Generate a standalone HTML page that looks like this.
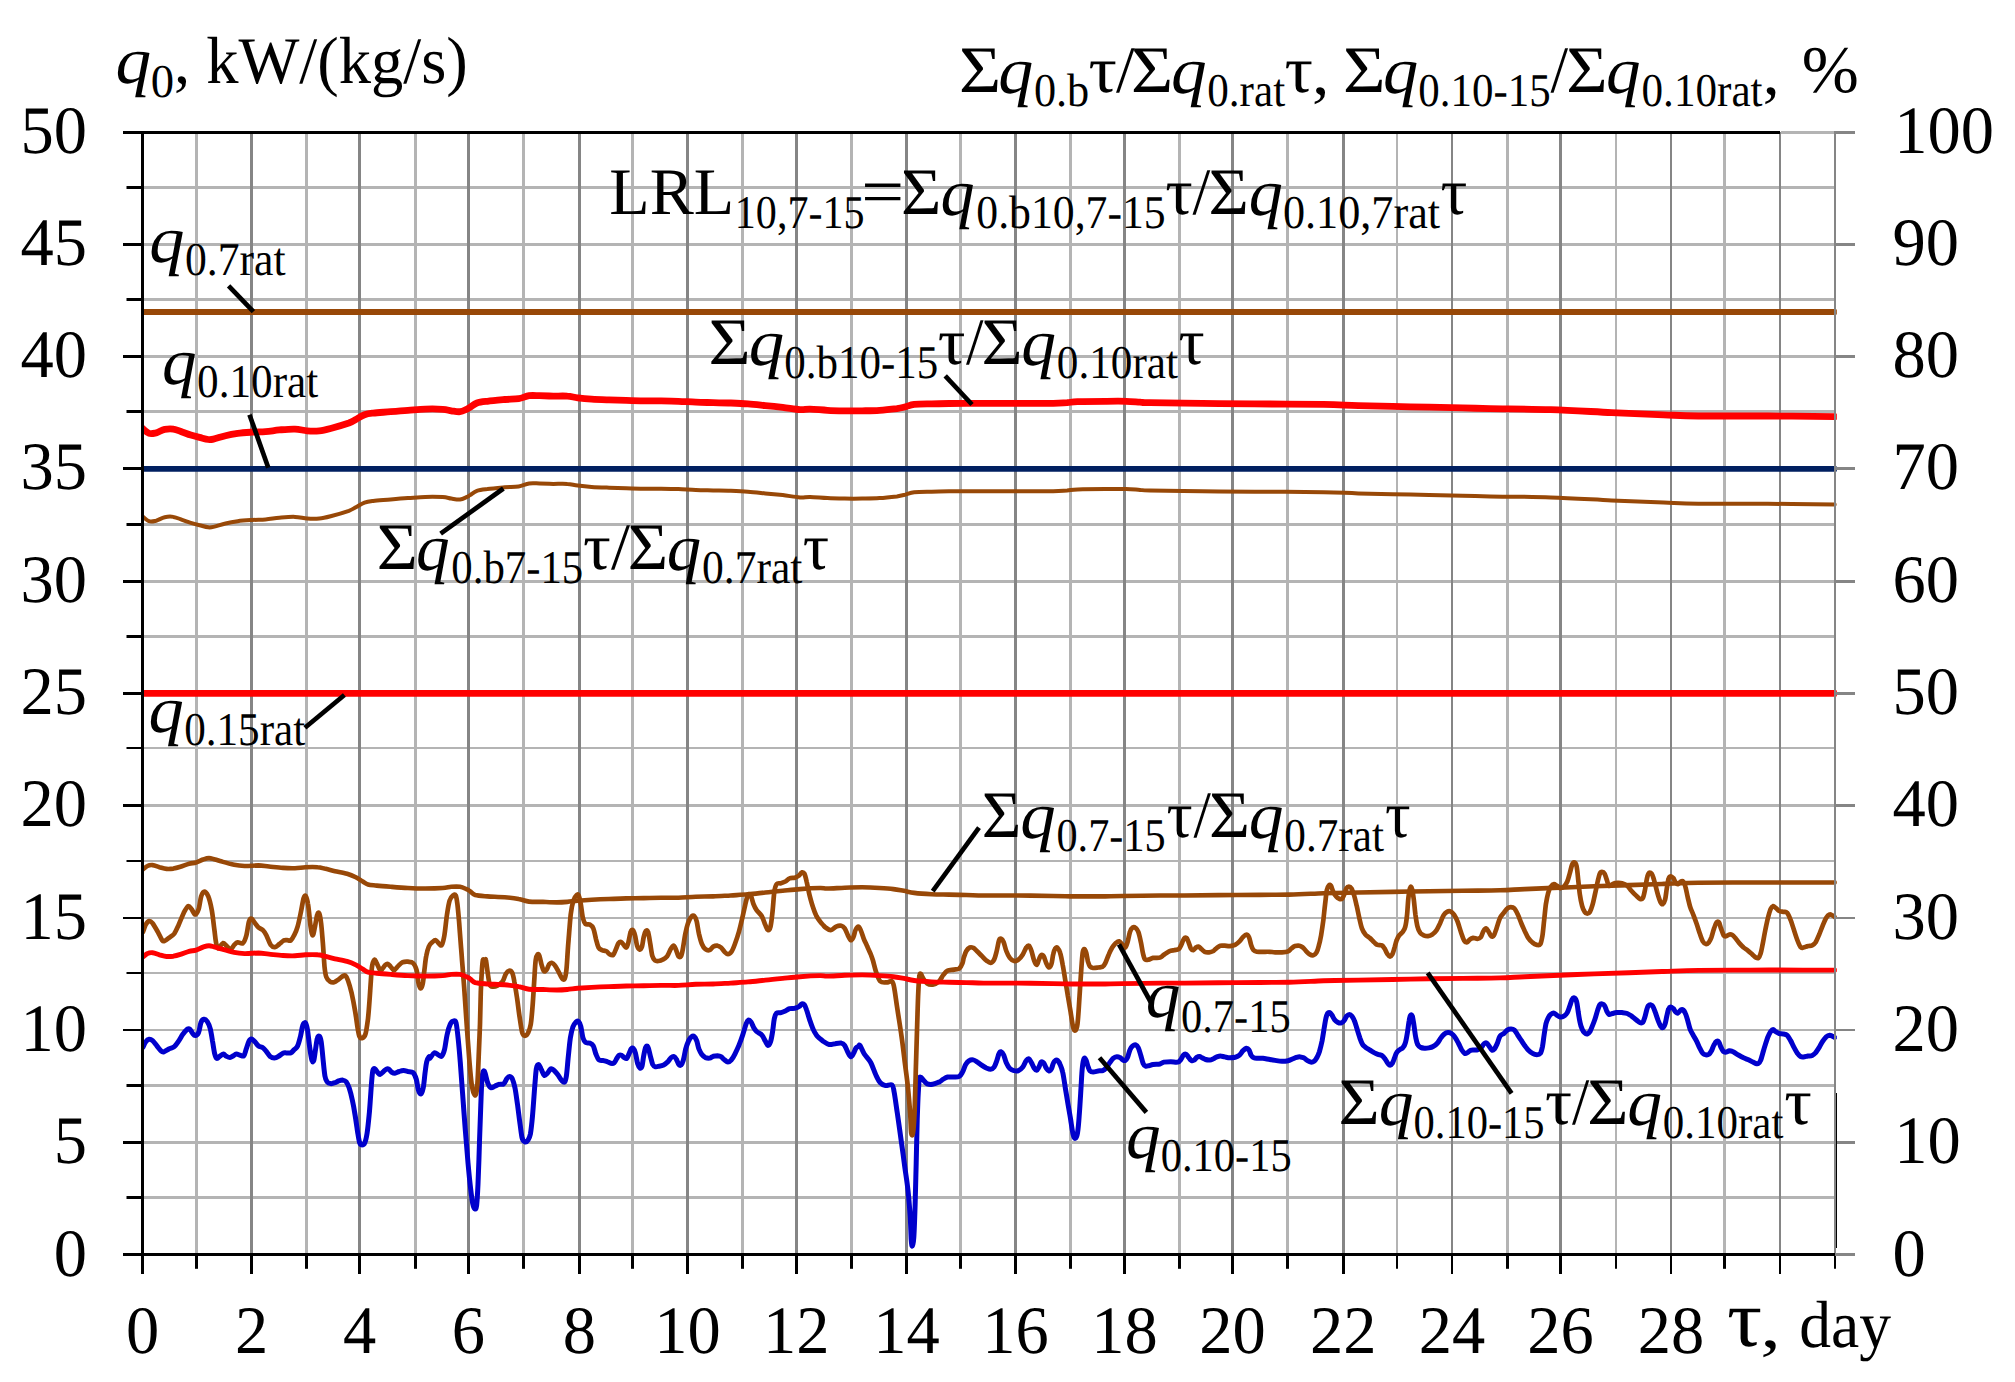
<!DOCTYPE html>
<html><head><meta charset="utf-8"><title>q0 chart</title>
<style>html,body{margin:0;padding:0;background:#fff}svg{display:block}</style></head>
<body>
<svg width="2015" height="1382" viewBox="0 0 2015 1382">
<rect width="2015" height="1382" fill="#fff"/>
<g fill="none">
<line x1="142.5" x2="1835.0" y1="1197.5" y2="1197.5" stroke="#b4b4b4" stroke-width="3"/>
<line x1="142.5" x2="1835.0" y1="1142.5" y2="1142.5" stroke="#b4b4b4" stroke-width="3"/>
<line x1="142.5" x2="1835.0" y1="1085.5" y2="1085.5" stroke="#b4b4b4" stroke-width="3"/>
<line x1="142.5" x2="1835.0" y1="1030.0" y2="1030.0" stroke="#b4b4b4" stroke-width="2"/>
<line x1="142.5" x2="1835.0" y1="973.0" y2="973.0" stroke="#b4b4b4" stroke-width="2"/>
<line x1="142.5" x2="1835.0" y1="918.0" y2="918.0" stroke="#b4b4b4" stroke-width="2"/>
<line x1="142.5" x2="1835.0" y1="861.0" y2="861.0" stroke="#b4b4b4" stroke-width="2"/>
<line x1="142.5" x2="1835.0" y1="805.5" y2="805.5" stroke="#b4b4b4" stroke-width="3"/>
<line x1="142.5" x2="1835.0" y1="748.0" y2="748.0" stroke="#b4b4b4" stroke-width="2"/>
<line x1="142.5" x2="1835.0" y1="693.5" y2="693.5" stroke="#b4b4b4" stroke-width="3"/>
<line x1="142.5" x2="1835.0" y1="636.5" y2="636.5" stroke="#b4b4b4" stroke-width="3"/>
<line x1="142.5" x2="1835.0" y1="581.5" y2="581.5" stroke="#b4b4b4" stroke-width="3"/>
<line x1="142.5" x2="1835.0" y1="524.5" y2="524.5" stroke="#b4b4b4" stroke-width="3"/>
<line x1="142.5" x2="1835.0" y1="468.5" y2="468.5" stroke="#b4b4b4" stroke-width="3"/>
<line x1="142.5" x2="1835.0" y1="411.5" y2="411.5" stroke="#b4b4b4" stroke-width="3"/>
<line x1="142.5" x2="1835.0" y1="356.5" y2="356.5" stroke="#b4b4b4" stroke-width="3"/>
<line x1="142.5" x2="1835.0" y1="299.5" y2="299.5" stroke="#b4b4b4" stroke-width="3"/>
<line x1="142.5" x2="1835.0" y1="244.5" y2="244.5" stroke="#b4b4b4" stroke-width="3"/>
<line x1="142.5" x2="1835.0" y1="187.5" y2="187.5" stroke="#b4b4b4" stroke-width="3"/>
<line x1="196.5" x2="196.5" y1="132" y2="1254" stroke="#b4b4b4" stroke-width="3"/>
<line x1="306.5" x2="306.5" y1="132" y2="1254" stroke="#b4b4b4" stroke-width="3"/>
<line x1="415.5" x2="415.5" y1="132" y2="1254" stroke="#b4b4b4" stroke-width="3"/>
<line x1="523.5" x2="523.5" y1="132" y2="1254" stroke="#b4b4b4" stroke-width="3"/>
<line x1="632.5" x2="632.5" y1="132" y2="1254" stroke="#b4b4b4" stroke-width="3"/>
<line x1="742.5" x2="742.5" y1="132" y2="1254" stroke="#b4b4b4" stroke-width="3"/>
<line x1="851.5" x2="851.5" y1="132" y2="1254" stroke="#b4b4b4" stroke-width="3"/>
<line x1="960.5" x2="960.5" y1="132" y2="1254" stroke="#b4b4b4" stroke-width="3"/>
<line x1="1070.5" x2="1070.5" y1="132" y2="1254" stroke="#b4b4b4" stroke-width="3"/>
<line x1="1179.5" x2="1179.5" y1="132" y2="1254" stroke="#b4b4b4" stroke-width="3"/>
<line x1="1287.5" x2="1287.5" y1="132" y2="1254" stroke="#b4b4b4" stroke-width="3"/>
<line x1="1397.0" x2="1397.0" y1="132" y2="1254" stroke="#b4b4b4" stroke-width="2"/>
<line x1="1507.5" x2="1507.5" y1="132" y2="1254" stroke="#b4b4b4" stroke-width="3"/>
<line x1="1616.0" x2="1616.0" y1="132" y2="1254" stroke="#b4b4b4" stroke-width="2"/>
<line x1="1724.5" x2="1724.5" y1="132" y2="1254" stroke="#b4b4b4" stroke-width="3"/>
<line x1="251.5" x2="251.5" y1="132" y2="1254" stroke="#858585" stroke-width="3"/>
<line x1="359.5" x2="359.5" y1="132" y2="1254" stroke="#858585" stroke-width="3"/>
<line x1="468.5" x2="468.5" y1="132" y2="1254" stroke="#858585" stroke-width="3"/>
<line x1="579.5" x2="579.5" y1="132" y2="1254" stroke="#858585" stroke-width="3"/>
<line x1="687.5" x2="687.5" y1="132" y2="1254" stroke="#858585" stroke-width="3"/>
<line x1="796.5" x2="796.5" y1="132" y2="1254" stroke="#858585" stroke-width="3"/>
<line x1="906.5" x2="906.5" y1="132" y2="1254" stroke="#858585" stroke-width="3"/>
<line x1="1015.5" x2="1015.5" y1="132" y2="1254" stroke="#858585" stroke-width="3"/>
<line x1="1124.5" x2="1124.5" y1="132" y2="1254" stroke="#858585" stroke-width="3"/>
<line x1="1232.5" x2="1232.5" y1="132" y2="1254" stroke="#858585" stroke-width="3"/>
<line x1="1343.5" x2="1343.5" y1="132" y2="1254" stroke="#858585" stroke-width="3"/>
<line x1="1452.0" x2="1452.0" y1="132" y2="1254" stroke="#858585" stroke-width="2"/>
<line x1="1560.5" x2="1560.5" y1="132" y2="1254" stroke="#858585" stroke-width="3"/>
<line x1="1671.0" x2="1671.0" y1="132" y2="1254" stroke="#858585" stroke-width="2"/>
<line x1="1780.0" x2="1780.0" y1="132" y2="1254" stroke="#858585" stroke-width="2"/>
</g>
<clipPath id="pc"><rect x="142.5" y="120" width="1694.3" height="1140"/></clipPath>
<g fill="none" stroke-linecap="round" stroke-linejoin="round" clip-path="url(#pc)">
<line x1="142.5" x2="1835" y1="312.0" y2="312.0" stroke="#984807" stroke-width="5.8"/>
<line x1="142.5" x2="1835" y1="468.8" y2="468.8" stroke="#001f60" stroke-width="5.8"/>
<line x1="142.5" x2="1835" y1="693.4" y2="693.4" stroke="#ff0000" stroke-width="6.6"/>
<path d="M142.2 516.0C143.3 516.9 146.8 520.4 149.1 521.2C151.4 522.0 153.4 521.3 156.1 520.7C158.7 520.0 161.8 517.8 164.7 517.2C167.6 516.6 170.5 516.4 173.4 516.9C176.3 517.3 179.2 518.8 182.1 519.8C185.0 520.8 187.9 522.0 190.8 522.9C193.7 523.8 196.6 524.5 199.5 525.2C202.4 525.9 205.8 527.0 208.2 527.3C210.5 527.6 210.5 527.6 213.4 526.9C216.3 526.3 221.5 524.4 225.5 523.5C229.6 522.5 233.4 521.8 237.7 521.2C242.0 520.6 247.0 520.3 251.6 520.0C256.2 519.7 260.9 519.8 265.5 519.5C270.1 519.1 274.5 518.2 279.4 517.7C284.3 517.3 290.4 516.7 295.0 516.9C299.6 517.0 303.1 518.3 307.2 518.6C311.2 518.9 315.3 519.0 319.3 518.6C323.4 518.2 326.6 517.3 331.5 516.0C336.4 514.7 344.8 512.2 348.9 510.8C352.9 509.3 353.2 508.7 355.8 507.3C358.4 505.9 361.6 503.7 364.5 502.6C367.4 501.5 368.8 501.4 373.2 500.9C377.5 500.4 384.8 500.0 390.6 499.5C396.3 499.0 402.1 498.5 407.9 498.1C413.7 497.7 419.5 497.1 425.3 496.9C431.1 496.7 438.3 496.8 442.7 497.1C447.0 497.3 448.5 498.2 451.3 498.6C454.2 499.0 457.4 499.8 460.0 499.5C462.6 499.2 465.3 497.6 467.0 496.9C468.6 496.2 468.3 496.2 470.0 495.1C471.7 494.1 474.1 491.8 476.9 490.8C479.8 489.8 482.7 489.6 487.4 489.1C492.0 488.5 499.5 487.8 504.7 487.3C510.0 486.9 514.6 487.1 518.6 486.5C522.7 485.8 525.6 484.0 529.1 483.5C532.5 483.0 535.4 483.4 539.5 483.5C543.5 483.6 548.7 483.8 553.4 483.9C558.0 483.9 563.2 483.6 567.3 483.9C571.3 484.1 573.6 485.1 577.7 485.6C581.7 486.1 586.4 486.6 591.6 487.0C596.8 487.3 603.2 487.5 609.0 487.7C614.8 487.9 620.5 488.0 626.3 488.2C632.1 488.4 637.9 488.6 643.7 488.7C649.5 488.8 655.3 488.7 661.1 488.7C666.9 488.8 672.7 488.9 678.4 489.1C684.2 489.3 690.0 489.7 695.8 489.9C701.6 490.2 707.4 490.3 713.2 490.5C719.0 490.6 724.8 490.6 730.6 490.8C736.3 491.0 742.1 491.2 747.9 491.7C753.7 492.1 759.5 492.8 765.3 493.4C771.1 494.0 776.9 494.5 782.7 495.1C788.5 495.8 795.5 497.1 800.0 497.4C804.6 497.7 805.4 496.8 810.0 496.9C814.6 497.0 821.6 497.8 827.4 498.1C833.2 498.4 839.0 498.5 844.7 498.6C850.5 498.7 856.3 498.7 862.1 498.6C867.9 498.5 873.7 498.5 879.5 498.1C885.3 497.7 892.5 496.9 896.9 496.4C901.2 495.8 902.6 495.3 905.5 494.6C908.4 493.9 909.9 492.7 914.2 492.2C918.6 491.7 925.8 491.8 931.6 491.7C937.4 491.5 943.2 491.4 949.0 491.3C954.8 491.2 960.5 491.2 966.3 491.2C972.1 491.1 975.0 491.2 983.7 491.2C992.4 491.2 1006.9 491.2 1018.4 491.2C1030.0 491.2 1045.1 491.3 1053.2 491.2C1061.3 491.0 1063.0 490.7 1067.1 490.5C1071.1 490.2 1071.1 489.6 1077.5 489.4C1083.9 489.2 1097.2 489.1 1105.3 489.1C1113.4 489.0 1120.3 488.9 1126.1 489.1C1131.9 489.2 1136.1 489.7 1140.0 489.9C1144.0 490.2 1139.7 490.3 1150.0 490.5C1160.3 490.7 1184.7 490.9 1202.1 491.2C1219.5 491.4 1234.0 491.5 1254.2 491.7C1274.5 491.8 1306.3 491.9 1323.7 492.2C1341.1 492.5 1344.0 493.0 1358.4 493.4C1372.9 493.8 1393.2 494.2 1410.6 494.6C1427.9 495.0 1449.4 495.4 1462.7 495.7C1475.9 496.0 1475.3 496.1 1490.0 496.4C1504.7 496.7 1530.5 496.7 1550.8 497.4C1571.1 498.1 1592.8 499.5 1611.6 500.4C1630.4 501.2 1649.2 502.0 1663.7 502.6C1678.2 503.2 1681.1 503.6 1698.4 503.8C1715.8 504.0 1745.2 503.7 1767.9 503.8C1790.6 503.9 1823.7 504.3 1834.8 504.4" stroke="#984807" stroke-width="4.0"/>
<path d="M142.2 428.2C143.3 429.1 146.8 432.6 149.1 433.4C151.4 434.2 153.4 433.5 156.1 432.9C158.7 432.2 161.8 430.0 164.7 429.4C167.6 428.8 170.5 428.6 173.4 429.1C176.3 429.5 179.2 431.0 182.1 432.0C185.0 433.0 187.9 434.2 190.8 435.1C193.7 436.0 196.6 436.7 199.5 437.4C202.4 438.1 205.8 439.2 208.2 439.5C210.5 439.8 210.5 439.8 213.4 439.1C216.3 438.5 221.5 436.6 225.5 435.7C229.6 434.7 233.4 434.0 237.7 433.4C242.0 432.8 247.0 432.5 251.6 432.2C256.2 431.9 260.9 432.0 265.5 431.7C270.1 431.3 274.5 430.4 279.4 429.9C284.3 429.5 290.4 428.9 295.0 429.1C299.6 429.2 303.1 430.5 307.2 430.8C311.2 431.1 315.3 431.2 319.3 430.8C323.4 430.4 326.6 429.5 331.5 428.2C336.4 426.9 344.8 424.4 348.9 423.0C352.9 421.5 353.2 420.9 355.8 419.5C358.4 418.1 361.6 415.9 364.5 414.8C367.4 413.7 368.8 413.6 373.2 413.1C377.5 412.6 384.8 412.2 390.6 411.7C396.3 411.2 402.1 410.7 407.9 410.3C413.7 409.9 419.5 409.3 425.3 409.1C431.1 408.9 438.3 409.0 442.7 409.3C447.0 409.5 448.5 410.4 451.3 410.8C454.2 411.2 457.4 412.0 460.0 411.7C462.6 411.4 465.3 409.8 467.0 409.1C468.6 408.4 468.3 408.4 470.0 407.3C471.7 406.3 474.1 404.0 476.9 403.0C479.8 402.0 482.7 401.8 487.4 401.3C492.0 400.7 499.5 400.0 504.7 399.5C510.0 399.1 514.6 399.3 518.6 398.7C522.7 398.0 525.6 396.2 529.1 395.7C532.5 395.2 535.4 395.6 539.5 395.7C543.5 395.8 548.7 396.0 553.4 396.1C558.0 396.1 563.2 395.8 567.3 396.1C571.3 396.3 573.6 397.3 577.7 397.8C581.7 398.3 586.4 398.8 591.6 399.2C596.8 399.5 603.2 399.7 609.0 399.9C614.8 400.1 620.5 400.2 626.3 400.4C632.1 400.6 637.9 400.8 643.7 400.9C649.5 401.0 655.3 400.9 661.1 400.9C666.9 401.0 672.7 401.1 678.4 401.3C684.2 401.5 690.0 401.9 695.8 402.1C701.6 402.4 707.4 402.5 713.2 402.7C719.0 402.8 724.8 402.8 730.6 403.0C736.3 403.2 742.1 403.4 747.9 403.9C753.7 404.3 759.5 405.0 765.3 405.6C771.1 406.2 776.9 406.7 782.7 407.3C788.5 408.0 795.5 409.3 800.0 409.6C804.6 409.9 805.4 409.0 810.0 409.1C814.6 409.2 821.6 410.0 827.4 410.3C833.2 410.6 839.0 410.7 844.7 410.8C850.5 410.9 856.3 410.9 862.1 410.8C867.9 410.7 873.7 410.7 879.5 410.3C885.3 409.9 892.5 409.1 896.9 408.6C901.2 408.0 902.6 407.5 905.5 406.8C908.4 406.1 909.9 404.9 914.2 404.4C918.6 403.9 925.8 404.0 931.6 403.9C937.4 403.7 943.2 403.6 949.0 403.5C954.8 403.4 960.5 403.4 966.3 403.4C972.1 403.3 975.0 403.4 983.7 403.4C992.4 403.4 1006.9 403.4 1018.4 403.4C1030.0 403.4 1045.1 403.5 1053.2 403.4C1061.3 403.2 1063.0 402.9 1067.1 402.7C1071.1 402.4 1071.1 401.8 1077.5 401.6C1083.9 401.4 1097.2 401.3 1105.3 401.3C1113.4 401.2 1120.3 401.1 1126.1 401.3C1131.9 401.4 1136.1 401.9 1140.0 402.1C1144.0 402.4 1139.7 402.5 1150.0 402.7C1160.3 402.9 1184.7 403.1 1202.1 403.4C1219.5 403.6 1234.0 403.7 1254.2 403.9C1274.5 404.0 1306.3 404.1 1323.7 404.4C1341.1 404.7 1344.0 405.2 1358.4 405.6C1372.9 406.0 1393.2 406.4 1410.6 406.8C1427.9 407.2 1449.4 407.6 1462.7 407.9C1475.9 408.2 1475.3 408.3 1490.0 408.6C1504.7 408.9 1530.5 408.9 1550.8 409.6C1571.1 410.3 1592.8 411.7 1611.6 412.6C1630.4 413.4 1649.2 414.2 1663.7 414.8C1678.2 415.4 1681.1 415.8 1698.4 416.0C1715.8 416.2 1745.2 415.9 1767.9 416.0C1790.6 416.1 1823.7 416.5 1834.8 416.6" stroke="#ff0000" stroke-width="6.8"/>
<path d="M143.0 1047.1C143.5 1046.3 144.6 1043.2 145.6 1041.9C146.6 1040.6 147.9 1039.5 149.1 1039.3C150.3 1039.1 151.3 1039.6 152.6 1040.7C153.9 1041.8 155.5 1044.2 156.9 1045.9C158.4 1047.7 160.1 1050.1 161.3 1051.1C162.4 1052.1 162.6 1052.2 163.9 1051.8C165.2 1051.4 167.3 1049.7 169.1 1048.9C170.8 1048.0 172.7 1047.9 174.3 1046.6C175.9 1045.3 177.2 1043.1 178.6 1041.1C180.1 1039.0 181.5 1036.1 183.0 1034.1C184.4 1032.1 186.2 1030.1 187.3 1029.2C188.5 1028.4 189.1 1028.6 189.9 1029.2C190.8 1029.9 191.7 1032.2 192.5 1033.2C193.4 1034.3 194.1 1035.6 195.1 1035.5C196.2 1035.4 197.7 1034.5 198.6 1032.4C199.6 1030.3 200.0 1025.0 200.9 1022.8C201.7 1020.6 202.8 1019.5 203.8 1019.3C204.9 1019.1 206.2 1020.0 207.3 1021.6C208.4 1023.2 209.4 1025.7 210.3 1028.9C211.1 1032.1 211.8 1036.9 212.5 1041.1C213.3 1045.3 214.0 1051.2 214.8 1054.1C215.5 1057.0 215.9 1058.1 216.9 1058.4C217.8 1058.7 219.2 1056.5 220.3 1055.8C221.4 1055.1 222.4 1054.0 223.5 1054.1C224.5 1054.2 225.3 1055.8 226.4 1056.3C227.5 1056.9 228.7 1057.6 229.9 1057.6C231.0 1057.5 232.3 1056.4 233.4 1055.8C234.4 1055.2 235.1 1054.2 236.3 1054.1C237.5 1054.0 239.1 1055.0 240.3 1055.3C241.5 1055.6 242.8 1056.7 243.8 1055.8C244.7 1054.9 245.2 1052.2 246.0 1049.7C246.9 1047.3 248.1 1042.9 249.0 1041.1C249.9 1039.3 250.6 1038.8 251.6 1039.0C252.6 1039.1 253.9 1040.8 255.1 1041.9C256.2 1043.1 257.2 1045.0 258.5 1045.9C259.8 1046.9 261.6 1046.7 262.9 1047.7C264.2 1048.6 265.1 1050.0 266.4 1051.5C267.6 1053.0 269.0 1055.6 270.4 1056.7C271.7 1057.8 272.8 1058.1 274.2 1058.1C275.5 1058.0 277.1 1057.2 278.5 1056.3C280.0 1055.5 281.6 1053.8 282.9 1053.2C284.2 1052.6 285.0 1052.9 286.3 1052.9C287.6 1052.8 289.4 1053.4 290.7 1052.9C292.0 1052.3 293.0 1050.9 294.1 1049.7C295.3 1048.6 296.6 1048.2 297.6 1045.9C298.7 1043.6 299.7 1039.3 300.6 1035.8C301.4 1032.4 302.0 1027.6 302.8 1025.4C303.6 1023.3 304.7 1022.1 305.4 1022.8C306.2 1023.5 306.8 1025.6 307.5 1029.8C308.2 1034.0 309.0 1042.9 309.8 1048.0C310.5 1053.1 311.4 1058.4 312.0 1060.5C312.7 1062.6 313.2 1062.3 313.8 1060.5C314.4 1058.7 314.9 1053.4 315.5 1049.7C316.1 1046.1 316.6 1040.7 317.3 1038.4C317.9 1036.2 318.7 1035.8 319.3 1036.2C320.0 1036.6 320.5 1037.6 321.1 1041.1C321.7 1044.5 322.2 1050.9 322.8 1056.7C323.4 1062.5 324.2 1071.6 324.9 1075.8C325.6 1080.0 326.2 1080.6 327.2 1081.9C328.1 1083.2 329.3 1083.5 330.6 1083.6C331.9 1083.8 333.7 1083.2 335.0 1082.7C336.3 1082.3 337.1 1081.4 338.4 1081.0C339.7 1080.6 341.5 1080.0 342.8 1080.1C344.1 1080.3 345.2 1080.6 346.3 1081.9C347.3 1083.2 348.2 1084.9 349.2 1088.0C350.2 1091.0 351.4 1095.8 352.3 1100.1C353.3 1104.5 354.1 1108.8 354.9 1114.0C355.8 1119.2 356.8 1126.6 357.5 1131.4C358.3 1136.2 358.9 1140.4 359.6 1142.7C360.4 1144.9 361.0 1144.9 361.9 1144.9C362.8 1144.9 364.0 1144.6 364.8 1142.7C365.7 1140.7 366.3 1138.2 367.1 1133.1C367.9 1128.1 368.6 1120.4 369.4 1112.3C370.1 1104.2 370.9 1091.4 371.4 1084.5C372.0 1077.5 372.3 1073.2 372.8 1070.6C373.4 1068.0 374.1 1068.6 374.9 1068.8C375.7 1069.1 376.7 1071.4 377.5 1072.3C378.4 1073.2 379.1 1074.6 380.1 1074.4C381.1 1074.3 382.6 1072.3 383.6 1071.5C384.6 1070.6 385.3 1069.6 386.2 1069.2C387.1 1068.8 387.9 1068.7 388.8 1069.2C389.7 1069.7 390.4 1071.3 391.4 1072.0C392.4 1072.6 393.6 1073.3 394.9 1073.2C396.2 1073.1 397.8 1071.9 399.2 1071.5C400.7 1071.0 402.1 1070.6 403.6 1070.6C405.0 1070.6 406.3 1071.1 407.9 1071.5C409.5 1071.8 411.7 1071.4 413.1 1072.7C414.5 1074.0 415.4 1076.4 416.3 1079.3C417.1 1082.1 417.6 1087.2 418.3 1089.7C419.1 1092.2 420.1 1094.3 421.0 1094.0C421.8 1093.7 422.5 1091.3 423.2 1088.0C423.9 1084.6 424.4 1078.4 424.9 1074.1C425.5 1069.7 426.0 1064.8 426.7 1061.9C427.4 1059.0 428.6 1057.3 429.1 1056.7C429.7 1056.1 429.1 1058.9 430.0 1058.2C430.9 1057.6 432.8 1053.4 434.3 1052.9C435.7 1052.4 437.3 1054.5 438.5 1055.0C439.8 1055.6 440.7 1057.0 441.7 1056.1C442.7 1055.2 443.6 1053.2 444.5 1049.7C445.4 1046.1 446.1 1039.0 447.1 1034.7C448.0 1030.5 449.2 1026.4 450.3 1024.1C451.4 1021.7 452.5 1021.0 453.5 1020.9C454.5 1020.7 455.3 1020.0 456.1 1023.0C456.8 1026.0 457.5 1032.4 458.2 1039.0C458.9 1045.6 459.6 1053.6 460.3 1062.5C461.0 1071.4 461.6 1081.4 462.5 1092.4C463.3 1103.4 464.3 1117.0 465.2 1128.7C466.2 1140.4 467.1 1152.9 468.0 1162.9C468.9 1172.8 469.8 1181.7 470.6 1188.5C471.4 1195.2 472.0 1200.1 472.7 1203.4C473.4 1206.8 474.2 1208.4 474.8 1208.8C475.5 1209.1 476.0 1209.7 476.6 1205.6C477.1 1201.5 477.5 1194.9 478.0 1184.2C478.5 1173.5 479.1 1154.7 479.5 1141.5C480.0 1128.3 480.4 1115.5 480.8 1105.2C481.2 1094.9 481.5 1085.3 481.9 1079.6C482.3 1073.9 482.9 1072.1 483.4 1071.0C483.9 1070.0 484.4 1071.2 485.1 1073.2C485.8 1075.1 486.7 1080.4 487.7 1082.8C488.6 1085.2 489.6 1087.2 490.9 1087.7C492.1 1088.2 493.7 1086.6 495.1 1086.0C496.6 1085.4 498.0 1084.6 499.4 1084.3C500.8 1083.9 502.4 1084.8 503.7 1083.9C504.9 1082.9 505.9 1079.8 506.9 1078.5C507.8 1077.3 508.5 1076.4 509.4 1076.4C510.3 1076.4 511.3 1076.6 512.2 1078.5C513.1 1080.5 514.1 1083.7 515.0 1088.1C515.9 1092.6 516.7 1099.2 517.6 1105.2C518.4 1111.3 519.3 1118.9 520.1 1124.4C520.9 1129.9 521.4 1135.4 522.2 1138.3C523.1 1141.2 524.1 1141.6 525.0 1141.9C525.9 1142.3 526.9 1141.8 527.8 1140.4C528.7 1139.1 529.6 1138.1 530.4 1134.0C531.1 1129.9 531.8 1123.5 532.5 1115.9C533.2 1108.2 534.0 1096.0 534.6 1088.1C535.3 1080.3 535.7 1072.8 536.3 1068.9C537.0 1065.0 537.7 1064.6 538.5 1064.6C539.3 1064.6 540.1 1067.1 541.0 1068.9C542.0 1070.7 543.2 1074.6 544.2 1075.3C545.3 1076.0 546.4 1074.2 547.4 1073.2C548.4 1072.2 549.4 1069.9 550.3 1069.2C551.1 1068.5 551.7 1068.8 552.5 1069.2C553.3 1069.6 554.1 1070.4 555.1 1071.5C556.1 1072.6 557.4 1074.2 558.6 1075.8C559.7 1077.4 561.0 1080.0 562.1 1081.0C563.1 1082.0 563.9 1082.7 564.7 1081.9C565.4 1081.0 565.8 1079.7 566.4 1075.8C567.0 1071.9 567.5 1064.8 568.1 1058.4C568.8 1052.1 569.6 1042.8 570.4 1037.6C571.2 1032.4 571.9 1029.8 572.8 1027.2C573.8 1024.6 575.0 1022.9 576.0 1021.9C576.9 1021.0 577.8 1020.9 578.6 1021.6C579.4 1022.3 580.1 1023.6 580.8 1026.3C581.5 1029.0 582.1 1034.9 582.9 1037.6C583.7 1040.3 584.4 1041.5 585.5 1042.4C586.7 1043.4 588.6 1042.6 589.9 1043.1C591.2 1043.7 592.3 1044.1 593.3 1045.9C594.3 1047.7 595.0 1051.8 595.9 1054.1C596.9 1056.4 597.7 1058.7 598.9 1059.8C600.0 1060.9 601.5 1060.2 602.9 1060.5C604.3 1060.8 605.9 1061.1 607.2 1061.6C608.5 1062.0 609.5 1063.1 610.7 1063.3C611.9 1063.5 613.2 1063.6 614.2 1062.8C615.2 1062.0 616.0 1059.7 616.8 1058.4C617.6 1057.2 618.3 1055.8 619.0 1055.3C619.8 1054.8 620.6 1054.9 621.5 1055.3C622.3 1055.7 623.4 1057.0 624.2 1057.6C625.1 1058.1 625.9 1059.0 626.7 1058.4C627.5 1057.8 628.2 1055.7 628.9 1054.1C629.7 1052.5 630.5 1049.8 631.2 1048.9C631.9 1047.9 632.6 1047.7 633.3 1048.4C634.0 1049.0 634.6 1050.3 635.4 1052.9C636.1 1055.4 636.9 1061.1 637.6 1063.6C638.4 1066.2 639.2 1067.5 639.9 1068.0C640.6 1068.4 641.3 1068.3 642.0 1066.2C642.6 1064.2 643.1 1059.0 643.7 1055.8C644.3 1052.6 645.1 1048.6 645.8 1047.1C646.5 1045.7 647.3 1045.7 648.0 1047.1C648.8 1048.6 649.5 1052.9 650.3 1055.8C651.1 1058.7 651.9 1062.7 652.7 1064.5C653.6 1066.3 654.4 1066.5 655.5 1066.8C656.6 1067.1 658.0 1066.5 659.3 1066.2C660.7 1066.0 662.3 1065.7 663.7 1065.0C665.1 1064.3 666.4 1063.1 667.7 1061.9C668.9 1060.7 670.1 1058.4 671.1 1057.6C672.2 1056.7 673.2 1056.4 674.1 1056.7C675.0 1057.0 675.6 1058.0 676.4 1059.3C677.1 1060.6 678.0 1063.5 678.8 1064.5C679.6 1065.5 680.3 1065.7 681.0 1065.0C681.8 1064.3 682.5 1062.9 683.3 1060.2C684.1 1057.5 684.9 1052.1 685.7 1048.9C686.6 1045.7 687.6 1043.1 688.5 1041.1C689.5 1039.0 690.5 1037.4 691.5 1036.7C692.5 1036.0 693.6 1036.0 694.4 1036.7C695.3 1037.4 695.9 1038.7 696.7 1040.7C697.4 1042.7 698.1 1046.6 698.9 1048.9C699.8 1051.2 700.8 1053.2 701.9 1054.6C703.0 1056.1 704.1 1057.0 705.4 1057.6C706.7 1058.1 708.4 1058.3 709.7 1058.1C711.0 1057.9 711.9 1056.7 713.2 1056.3C714.5 1056.0 716.2 1055.8 717.5 1055.8C718.8 1055.9 719.8 1056.0 721.0 1056.7C722.2 1057.4 723.3 1058.9 724.5 1059.8C725.6 1060.7 726.8 1061.9 727.9 1061.9C729.1 1061.9 730.3 1061.1 731.4 1059.8C732.6 1058.5 733.7 1056.5 734.9 1054.1C736.1 1051.7 737.6 1048.6 738.9 1045.4C740.2 1042.2 741.5 1038.6 742.7 1035.0C743.9 1031.4 745.3 1026.1 746.2 1023.7C747.1 1021.2 747.5 1020.5 748.3 1020.2C749.1 1019.9 750.2 1020.8 751.0 1021.9C751.9 1023.1 752.6 1025.6 753.5 1027.2C754.4 1028.8 755.2 1030.2 756.6 1031.5C758.0 1032.8 760.4 1033.4 761.8 1035.0C763.3 1036.6 764.3 1039.3 765.3 1041.1C766.3 1042.8 767.0 1045.3 767.9 1045.4C768.8 1045.5 769.7 1044.2 770.5 1041.9C771.3 1039.6 772.0 1035.4 772.6 1031.5C773.2 1027.6 773.7 1021.8 774.3 1018.7C775.0 1015.6 775.5 1014.2 776.6 1013.1C777.7 1012.1 779.5 1013.0 780.9 1012.6C782.4 1012.2 783.8 1011.6 785.3 1010.9C786.7 1010.2 788.0 1009.1 789.6 1008.6C791.2 1008.2 793.2 1008.6 794.8 1008.3C796.4 1007.9 798.0 1007.3 799.2 1006.5C800.3 1005.8 800.9 1004.2 801.8 1003.9C802.6 1003.6 803.6 1003.8 804.4 1004.8C805.2 1005.8 805.8 1007.6 806.6 1010.0C807.5 1012.5 808.5 1016.4 809.6 1019.6C810.7 1022.8 811.9 1026.5 813.1 1029.1C814.2 1031.7 815.4 1033.6 816.5 1035.2C817.7 1036.8 818.9 1037.7 820.0 1038.7C821.1 1039.7 821.5 1040.1 823.0 1041.1C824.5 1042.0 827.1 1044.1 829.1 1044.5C831.1 1045.0 833.2 1043.9 835.2 1043.7C837.2 1043.4 839.7 1042.9 841.3 1043.1C842.9 1043.4 843.6 1043.9 844.7 1045.4C845.8 1046.9 846.9 1050.5 847.9 1052.3C848.9 1054.2 849.9 1056.5 850.8 1056.7C851.7 1056.9 852.6 1055.0 853.4 1053.6C854.3 1052.1 855.2 1049.2 856.0 1048.0C856.9 1046.8 858.0 1046.7 858.6 1046.3C859.3 1045.8 859.1 1044.1 860.0 1045.4C860.9 1046.7 862.5 1051.1 864.3 1054.0C866.1 1056.8 868.7 1058.9 870.7 1062.5C872.6 1066.1 874.4 1071.9 876.0 1075.3C877.6 1078.7 878.7 1081.1 880.3 1082.8C881.9 1084.5 883.7 1085.2 885.6 1085.6C887.6 1085.9 890.6 1083.8 892.0 1084.9C893.5 1086.1 893.3 1087.6 894.2 1092.4C895.1 1097.2 896.1 1105.2 897.4 1113.7C898.6 1122.3 900.4 1134.7 901.6 1143.6C902.9 1152.5 903.8 1159.3 904.8 1167.1C905.9 1175.0 907.2 1182.4 908.0 1190.6C908.9 1198.8 909.6 1208.1 910.2 1216.2C910.7 1224.4 910.9 1234.8 911.2 1239.7C911.6 1244.7 911.9 1246.5 912.3 1246.1C912.7 1245.8 913.3 1244.4 913.8 1237.6C914.3 1230.8 914.7 1218.0 915.1 1205.6C915.5 1193.1 915.8 1177.1 916.2 1162.9C916.5 1148.6 916.9 1131.9 917.2 1120.2C917.6 1108.4 917.9 1099.3 918.3 1092.4C918.7 1085.5 918.9 1081.0 919.4 1078.5C919.8 1076.0 920.3 1077.3 920.9 1077.4C921.5 1077.6 921.9 1078.5 923.0 1079.6C924.1 1080.6 925.7 1083.1 927.3 1083.9C928.9 1084.6 930.6 1084.6 932.6 1084.3C934.6 1084.0 937.2 1083.0 939.0 1082.1C940.8 1081.3 941.9 1080.0 943.3 1079.2C944.7 1078.3 945.8 1077.4 947.6 1077.0C949.3 1076.7 952.0 1077.1 954.0 1077.0C955.9 1076.9 957.9 1077.2 959.3 1076.4C960.7 1075.6 961.4 1074.1 962.5 1072.1C963.6 1070.2 964.6 1066.5 965.7 1064.6C966.8 1062.7 967.7 1061.6 968.9 1060.8C970.2 1060.0 971.8 1059.7 973.2 1059.9C974.6 1060.1 976.0 1061.2 977.4 1062.1C978.9 1063.0 980.5 1064.4 982.0 1065.4C983.4 1066.4 984.9 1067.3 986.3 1068.0C987.8 1068.6 989.3 1069.3 990.6 1069.2C992.0 1069.1 993.1 1068.5 994.1 1067.1C995.1 1065.7 995.9 1063.3 996.7 1061.0C997.5 1058.8 998.3 1055.1 999.0 1053.6C999.7 1052.0 1000.3 1051.6 1001.1 1051.8C1001.9 1052.1 1002.8 1053.1 1003.7 1055.0C1004.5 1056.8 1005.3 1060.5 1006.3 1062.8C1007.3 1065.0 1008.5 1067.2 1009.8 1068.5C1011.1 1069.8 1012.7 1070.2 1014.1 1070.6C1015.5 1070.9 1017.0 1071.2 1018.4 1070.6C1019.9 1070.0 1021.5 1068.8 1022.8 1067.1C1024.1 1065.4 1025.2 1061.9 1026.3 1060.5C1027.3 1059.1 1028.0 1058.4 1028.9 1058.8C1029.7 1059.1 1030.6 1061.2 1031.5 1062.8C1032.3 1064.3 1033.2 1066.7 1034.1 1068.0C1034.9 1069.2 1035.9 1070.4 1036.7 1070.2C1037.5 1070.1 1038.2 1068.4 1038.9 1067.1C1039.7 1065.8 1040.2 1063.0 1041.0 1062.2C1041.8 1061.5 1042.8 1061.8 1043.6 1062.8C1044.5 1063.7 1045.4 1066.6 1046.2 1068.0C1047.1 1069.3 1048.0 1070.8 1048.8 1070.9C1049.7 1071.1 1050.7 1070.1 1051.4 1068.8C1052.2 1067.6 1052.5 1065.0 1053.2 1063.6C1053.8 1062.2 1054.5 1061.0 1055.3 1060.5C1056.0 1060.0 1056.7 1059.8 1057.5 1060.5C1058.3 1061.2 1059.3 1062.5 1060.1 1064.5C1061.0 1066.5 1061.9 1068.4 1062.7 1072.3C1063.6 1076.2 1064.5 1082.7 1065.3 1088.0C1066.2 1093.2 1067.1 1098.4 1067.9 1103.6C1068.8 1108.8 1069.7 1114.0 1070.6 1119.2C1071.4 1124.4 1072.3 1131.7 1073.2 1134.9C1074.0 1138.0 1074.7 1138.6 1075.4 1138.3C1076.1 1138.0 1076.9 1136.9 1077.5 1133.1C1078.1 1129.4 1078.7 1123.3 1079.2 1115.7C1079.8 1108.2 1080.5 1096.1 1081.0 1088.0C1081.5 1079.8 1081.8 1072.0 1082.4 1067.1C1082.9 1062.2 1083.5 1059.5 1084.1 1058.4C1084.7 1057.3 1085.5 1059.2 1086.2 1060.5C1086.8 1061.8 1087.3 1064.5 1087.9 1066.2C1088.6 1068.0 1089.1 1070.0 1090.0 1070.9C1090.9 1071.9 1091.7 1072.0 1093.1 1072.0C1094.5 1072.0 1096.8 1071.2 1098.3 1070.9C1099.9 1070.7 1101.4 1071.1 1102.7 1070.6C1104.0 1070.1 1105.0 1069.3 1106.2 1068.0C1107.3 1066.7 1108.5 1064.4 1109.6 1062.8C1110.8 1061.2 1112.0 1059.4 1113.1 1058.4C1114.3 1057.4 1115.4 1056.8 1116.6 1056.7C1117.7 1056.5 1119.0 1057.0 1120.1 1057.6C1121.1 1058.1 1121.8 1059.3 1122.7 1059.8C1123.5 1060.3 1124.5 1060.9 1125.3 1060.5C1126.1 1060.1 1126.7 1059.4 1127.5 1057.6C1128.3 1055.8 1129.1 1051.7 1130.0 1049.7C1130.8 1047.8 1131.8 1046.7 1132.7 1045.9C1133.7 1045.1 1134.8 1044.6 1135.7 1044.9C1136.6 1045.2 1137.4 1045.8 1138.3 1047.7C1139.2 1049.5 1140.1 1053.2 1140.9 1055.8C1141.7 1058.5 1142.4 1061.9 1143.2 1063.6C1143.9 1065.4 1144.7 1065.9 1145.6 1066.2C1146.5 1066.6 1147.5 1066.0 1148.7 1065.7C1150.0 1065.4 1151.2 1064.8 1153.1 1064.5C1154.9 1064.2 1158.2 1064.4 1160.0 1064.0C1161.8 1063.6 1162.1 1062.5 1163.9 1062.1C1165.7 1061.8 1168.5 1061.8 1170.8 1061.8C1173.2 1061.8 1176.1 1062.5 1177.8 1062.1C1179.5 1061.8 1180.0 1060.7 1180.9 1059.5C1181.8 1058.4 1182.5 1056.0 1183.4 1055.2C1184.2 1054.3 1185.3 1054.0 1186.1 1054.3C1187.0 1054.7 1187.7 1056.3 1188.6 1057.3C1189.4 1058.3 1190.4 1059.9 1191.3 1060.4C1192.3 1060.9 1193.4 1060.6 1194.3 1060.0C1195.2 1059.5 1196.0 1057.8 1196.9 1057.3C1197.8 1056.7 1198.6 1056.5 1199.5 1056.6C1200.4 1056.7 1201.1 1057.3 1202.1 1057.8C1203.1 1058.3 1204.3 1059.1 1205.6 1059.5C1206.9 1059.9 1208.6 1060.2 1209.9 1060.0C1211.2 1059.9 1212.2 1059.2 1213.4 1058.7C1214.6 1058.1 1215.7 1057.4 1216.9 1056.9C1218.0 1056.5 1219.0 1056.0 1220.3 1056.0C1221.7 1056.0 1223.1 1056.6 1224.7 1056.9C1226.3 1057.2 1228.2 1057.7 1229.9 1057.8C1231.6 1057.8 1233.5 1057.7 1235.1 1057.3C1236.7 1056.8 1238.2 1056.3 1239.5 1055.2C1240.8 1054.1 1241.8 1052.0 1242.9 1050.8C1244.1 1049.7 1245.4 1048.4 1246.4 1048.2C1247.4 1048.1 1248.2 1048.8 1249.0 1050.0C1249.8 1051.1 1250.3 1053.9 1251.1 1055.2C1251.9 1056.5 1252.8 1057.3 1253.9 1057.8C1255.0 1058.3 1256.2 1058.2 1257.7 1058.3C1259.2 1058.4 1260.9 1058.1 1262.9 1058.3C1264.9 1058.5 1267.8 1059.2 1269.9 1059.5C1271.9 1059.9 1273.0 1060.1 1275.1 1060.4C1277.1 1060.7 1279.8 1061.2 1282.0 1061.3C1284.2 1061.3 1286.4 1061.1 1288.1 1060.7C1289.8 1060.4 1291.0 1059.6 1292.4 1059.0C1293.9 1058.4 1295.5 1057.6 1296.8 1057.3C1298.1 1056.9 1299.1 1056.8 1300.3 1056.9C1301.4 1057.0 1302.6 1057.2 1303.7 1057.8C1304.9 1058.4 1306.0 1059.7 1307.2 1060.4C1308.4 1061.1 1309.5 1062.0 1310.7 1062.1C1311.8 1062.3 1313.1 1062.0 1314.1 1061.3C1315.2 1060.5 1315.9 1059.4 1316.8 1057.8C1317.6 1056.2 1318.5 1054.5 1319.4 1051.7C1320.2 1049.0 1321.2 1045.0 1322.0 1041.3C1322.7 1037.5 1323.4 1032.9 1324.0 1029.1C1324.7 1025.4 1325.2 1021.3 1325.8 1018.7C1326.4 1016.1 1326.9 1014.5 1327.5 1013.5C1328.2 1012.5 1329.0 1012.3 1329.8 1012.6C1330.5 1012.9 1331.3 1014.1 1332.0 1015.2C1332.8 1016.4 1333.5 1018.4 1334.5 1019.6C1335.4 1020.7 1336.5 1021.6 1337.6 1022.2C1338.7 1022.8 1340.0 1023.3 1341.1 1023.0C1342.2 1022.8 1343.3 1021.6 1344.2 1020.4C1345.1 1019.3 1345.8 1017.1 1346.6 1016.1C1347.5 1015.1 1348.5 1014.4 1349.4 1014.4C1350.3 1014.4 1351.0 1014.9 1351.8 1016.1C1352.7 1017.3 1353.8 1019.1 1354.6 1021.3C1355.5 1023.5 1356.2 1026.4 1357.1 1029.1C1357.9 1031.9 1359.0 1035.3 1359.8 1037.8C1360.7 1040.3 1361.3 1042.3 1362.3 1043.9C1363.2 1045.5 1364.5 1046.3 1365.7 1047.4C1367.0 1048.4 1368.3 1049.1 1369.7 1050.0C1371.1 1050.8 1372.7 1051.8 1374.1 1052.6C1375.4 1053.3 1376.6 1053.8 1377.9 1054.3C1379.2 1054.8 1380.7 1054.8 1381.9 1055.5C1383.0 1056.3 1383.9 1057.4 1384.8 1058.7C1385.8 1059.9 1386.8 1061.9 1387.6 1063.0C1388.5 1064.1 1389.2 1065.3 1390.1 1065.3C1390.9 1065.3 1391.7 1064.2 1392.5 1063.0C1393.2 1061.8 1393.9 1059.5 1394.6 1057.8C1395.3 1056.0 1395.8 1053.9 1396.7 1052.6C1397.5 1051.2 1398.8 1050.4 1399.8 1049.6C1400.8 1048.8 1401.8 1049.0 1402.7 1047.9C1403.7 1046.8 1404.6 1045.6 1405.3 1043.0C1406.1 1040.5 1406.8 1036.4 1407.4 1032.6C1408.1 1028.8 1408.6 1023.3 1409.2 1020.4C1409.7 1017.5 1410.0 1016.0 1410.6 1015.2C1411.1 1014.5 1411.7 1014.4 1412.3 1016.1C1412.9 1017.8 1413.4 1022.0 1414.0 1025.6C1414.6 1029.3 1415.1 1034.6 1415.8 1037.8C1416.4 1041.0 1417.0 1043.2 1417.8 1044.8C1418.7 1046.3 1419.5 1046.8 1420.6 1047.4C1421.7 1047.9 1423.1 1048.1 1424.4 1048.2C1425.8 1048.3 1427.3 1048.2 1428.8 1047.9C1430.2 1047.6 1431.7 1047.3 1433.1 1046.5C1434.6 1045.7 1436.2 1044.5 1437.5 1043.0C1438.8 1041.6 1439.8 1039.3 1441.0 1037.8C1442.1 1036.3 1443.3 1034.9 1444.4 1034.0C1445.6 1033.1 1446.7 1032.7 1447.9 1032.6C1449.1 1032.5 1450.2 1032.7 1451.4 1033.5C1452.5 1034.2 1453.7 1035.3 1454.8 1036.9C1456.0 1038.5 1457.2 1040.8 1458.3 1043.0C1459.5 1045.2 1460.7 1048.2 1461.8 1050.0C1462.9 1051.7 1463.8 1053.0 1464.7 1053.4C1465.7 1053.9 1466.6 1053.1 1467.5 1052.6C1468.5 1052.1 1469.4 1050.7 1470.5 1050.3C1471.6 1049.9 1472.7 1050.1 1474.0 1050.0C1475.2 1049.9 1476.7 1050.1 1477.9 1049.6C1479.2 1049.2 1480.4 1048.3 1481.4 1047.4C1482.4 1046.4 1483.0 1044.6 1483.9 1043.9C1484.7 1043.2 1485.8 1042.6 1486.6 1043.0C1487.5 1043.4 1488.2 1045.0 1489.1 1046.1C1489.9 1047.3 1491.0 1049.5 1491.8 1050.0C1492.7 1050.5 1493.4 1050.1 1494.3 1049.1C1495.1 1048.1 1496.1 1046.1 1497.1 1043.9C1498.0 1041.7 1498.9 1037.8 1500.0 1036.1C1501.1 1034.3 1502.7 1034.5 1503.9 1033.5C1505.1 1032.5 1506.2 1030.7 1507.4 1030.0C1508.5 1029.3 1509.7 1029.1 1510.8 1029.1C1512.0 1029.1 1513.2 1029.0 1514.3 1030.0C1515.5 1031.0 1516.6 1033.5 1517.8 1035.2C1519.0 1036.9 1520.1 1038.7 1521.3 1040.4C1522.4 1042.2 1523.6 1044.0 1524.7 1045.6C1525.9 1047.2 1526.9 1048.7 1528.2 1050.0C1529.5 1051.3 1531.1 1052.6 1532.6 1053.4C1534.0 1054.3 1535.6 1054.8 1536.9 1054.8C1538.2 1054.8 1539.4 1054.8 1540.4 1053.4C1541.3 1052.1 1541.8 1049.7 1542.5 1046.5C1543.1 1043.3 1543.6 1038.1 1544.2 1034.3C1544.8 1030.6 1545.3 1026.7 1545.9 1023.9C1546.6 1021.2 1547.4 1019.4 1548.2 1017.8C1549.0 1016.2 1549.8 1015.1 1550.8 1014.4C1551.8 1013.6 1552.9 1013.0 1553.9 1013.1C1554.9 1013.3 1555.8 1014.6 1556.9 1015.2C1557.9 1015.9 1559.2 1016.8 1560.3 1017.0C1561.5 1017.1 1562.7 1016.8 1563.8 1016.1C1565.0 1015.4 1566.3 1014.4 1567.3 1012.6C1568.3 1010.9 1569.1 1007.8 1569.9 1005.7C1570.7 1003.5 1571.3 1000.9 1572.0 999.6C1572.7 998.3 1573.5 997.6 1574.2 997.9C1575.0 998.1 1575.8 999.0 1576.5 1001.3C1577.2 1003.6 1577.7 1008.3 1578.2 1011.8C1578.8 1015.2 1579.3 1019.3 1580.0 1022.2C1580.6 1025.1 1581.3 1027.3 1582.1 1029.1C1582.8 1030.9 1583.8 1032.1 1584.7 1032.9C1585.5 1033.8 1586.4 1034.2 1587.3 1034.0C1588.1 1033.8 1589.0 1033.1 1589.9 1031.7C1590.7 1030.3 1591.6 1027.8 1592.5 1025.6C1593.4 1023.5 1594.2 1021.3 1595.1 1018.7C1596.0 1016.1 1596.9 1012.3 1597.7 1010.0C1598.5 1007.7 1599.1 1005.8 1599.8 1004.8C1600.5 1003.8 1601.2 1003.8 1602.0 1003.9C1602.8 1004.1 1603.9 1004.5 1604.6 1005.7C1605.4 1006.8 1606.0 1009.4 1606.7 1010.9C1607.5 1012.3 1608.0 1013.9 1609.0 1014.4C1609.9 1014.8 1611.2 1013.8 1612.5 1013.5C1613.8 1013.2 1615.2 1012.8 1616.8 1012.6C1618.4 1012.5 1620.3 1012.5 1622.0 1012.6C1623.8 1012.8 1625.6 1012.9 1627.2 1013.5C1628.8 1014.1 1630.1 1015.1 1631.6 1016.1C1633.0 1017.1 1634.5 1018.5 1635.9 1019.6C1637.3 1020.6 1638.6 1022.1 1639.7 1022.5C1640.9 1023.0 1642.0 1023.1 1642.9 1022.2C1643.7 1021.2 1644.3 1019.0 1644.9 1017.0C1645.6 1014.9 1646.1 1011.9 1646.7 1010.0C1647.3 1008.1 1647.7 1006.5 1648.4 1005.7C1649.1 1004.8 1649.9 1004.7 1650.7 1004.8C1651.4 1005.0 1652.2 1005.2 1652.9 1006.5C1653.7 1007.8 1654.5 1010.3 1655.4 1012.6C1656.2 1014.9 1657.3 1018.2 1658.1 1020.4C1659.0 1022.7 1659.8 1024.8 1660.6 1026.0C1661.4 1027.2 1662.1 1028.1 1662.8 1027.7C1663.6 1027.4 1664.4 1025.9 1665.1 1023.9C1665.8 1022.0 1666.2 1018.6 1666.8 1016.1C1667.4 1013.6 1667.9 1010.7 1668.6 1009.1C1669.2 1007.6 1669.9 1007.0 1670.6 1006.9C1671.4 1006.8 1672.4 1007.8 1673.3 1008.6C1674.1 1009.4 1674.7 1011.0 1675.5 1011.8C1676.3 1012.5 1677.1 1013.4 1677.9 1013.1C1678.8 1012.9 1679.9 1010.5 1680.7 1010.0C1681.6 1009.5 1682.4 1009.4 1683.2 1010.0C1683.9 1010.6 1684.7 1011.8 1685.4 1013.5C1686.2 1015.2 1686.9 1017.8 1687.7 1020.4C1688.5 1023.0 1689.2 1026.7 1690.1 1029.1C1691.0 1031.6 1692.1 1033.2 1693.2 1035.2C1694.3 1037.2 1695.6 1039.1 1696.7 1041.3C1697.8 1043.5 1698.8 1046.2 1699.8 1048.2C1700.8 1050.3 1701.8 1052.3 1702.8 1053.4C1703.8 1054.5 1704.7 1054.7 1705.7 1054.8C1706.8 1055.0 1707.9 1055.0 1708.9 1054.3C1709.8 1053.6 1710.6 1052.4 1711.5 1050.8C1712.3 1049.2 1713.2 1046.3 1714.1 1044.8C1714.9 1043.2 1715.9 1041.7 1716.7 1041.3C1717.5 1040.8 1718.2 1041.1 1718.9 1042.2C1719.7 1043.2 1720.2 1045.8 1721.0 1047.4C1721.8 1049.0 1722.8 1050.9 1723.6 1051.7C1724.5 1052.5 1725.3 1052.2 1726.2 1052.1C1727.2 1051.9 1728.3 1051.0 1729.4 1050.8C1730.4 1050.7 1731.3 1051.0 1732.3 1051.4C1733.3 1051.7 1734.1 1052.4 1735.3 1053.1C1736.4 1053.8 1737.9 1054.7 1739.3 1055.5C1740.7 1056.3 1742.2 1057.1 1743.6 1057.8C1745.1 1058.5 1746.5 1058.9 1747.9 1059.5C1749.4 1060.2 1751.0 1061.1 1752.3 1061.8C1753.6 1062.4 1754.8 1063.2 1755.8 1063.5C1756.8 1063.8 1757.6 1064.0 1758.4 1063.5C1759.2 1063.0 1759.9 1062.1 1760.6 1060.4C1761.4 1058.7 1761.9 1056.0 1762.7 1053.4C1763.5 1050.8 1764.4 1047.5 1765.3 1044.8C1766.2 1042.0 1767.1 1039.1 1767.9 1036.9C1768.8 1034.8 1769.7 1033.0 1770.5 1031.7C1771.4 1030.5 1772.3 1029.5 1773.1 1029.5C1774.0 1029.5 1774.7 1031.1 1775.7 1031.7C1776.8 1032.4 1777.9 1033.1 1779.2 1033.5C1780.5 1033.8 1782.3 1033.7 1783.6 1034.0C1784.9 1034.3 1785.9 1034.1 1787.0 1035.2C1788.2 1036.3 1789.3 1038.4 1790.5 1040.4C1791.7 1042.4 1792.8 1045.2 1794.0 1047.4C1795.1 1049.5 1796.4 1051.9 1797.5 1053.4C1798.6 1055.0 1799.6 1056.0 1800.6 1056.6C1801.6 1057.1 1802.3 1057.0 1803.5 1056.9C1804.7 1056.8 1806.4 1056.3 1807.9 1056.0C1809.3 1055.8 1810.9 1056.1 1812.2 1055.5C1813.5 1054.9 1814.5 1053.9 1815.7 1052.6C1816.8 1051.2 1818.0 1049.2 1819.2 1047.4C1820.3 1045.5 1821.5 1043.0 1822.6 1041.3C1823.8 1039.5 1825.0 1038.0 1826.1 1036.9C1827.3 1035.9 1828.6 1035.3 1829.6 1035.2C1830.6 1035.1 1831.3 1035.7 1832.2 1036.1C1833.1 1036.4 1834.4 1037.2 1834.8 1037.5" stroke="#0000cc" stroke-width="5.0"/>
<path d="M143.0 869.4C143.8 868.9 145.8 866.7 147.4 866.0C149.0 865.2 150.6 864.9 152.6 865.1C154.6 865.3 157.2 866.5 159.5 867.2C161.8 867.8 164.2 868.7 166.5 868.9C168.8 869.1 171.1 868.9 173.4 868.6C175.7 868.2 177.8 867.6 180.4 866.8C183.0 866.0 186.5 864.4 189.1 863.7C191.7 863.0 193.7 863.2 196.0 862.5C198.3 861.8 200.8 860.3 203.0 859.5C205.1 858.8 207.0 858.1 209.0 858.1C211.1 858.1 212.9 859.0 215.1 859.5C217.3 860.1 218.9 860.8 222.1 861.6C225.2 862.5 230.5 864.0 234.2 864.7C238.0 865.5 240.6 865.8 244.6 866.0C248.7 866.1 254.5 865.4 258.5 865.4C262.6 865.5 264.9 866.1 269.0 866.5C273.0 866.9 278.5 867.6 282.9 867.9C287.2 868.2 291.3 868.3 295.0 868.2C298.8 868.1 301.7 867.4 305.4 867.2C309.2 867.0 314.4 866.9 317.6 867.2C320.8 867.4 321.7 867.9 324.5 868.6C327.4 869.2 331.2 870.3 335.0 871.2C338.7 872.0 343.7 872.8 347.1 873.8C350.6 874.8 353.2 876.0 355.8 877.3C358.4 878.6 360.7 880.4 362.8 881.6C364.8 882.8 365.7 883.9 368.0 884.5C370.3 885.2 372.9 885.2 376.7 885.6C380.4 886.0 385.3 886.4 390.6 886.8C395.8 887.2 402.1 887.7 407.9 888.0C413.7 888.3 419.5 888.5 425.3 888.5C431.1 888.5 438.3 888.3 442.7 888.0C447.0 887.7 448.5 887.0 451.3 886.8C454.2 886.6 457.4 886.4 460.0 886.8C462.6 887.2 465.3 888.7 467.0 889.4C468.6 890.1 468.6 890.2 470.0 891.2C471.4 892.1 472.3 894.1 475.2 895.0C478.1 895.8 482.4 896.0 487.4 896.4C492.3 896.7 499.5 896.8 504.7 897.2C510.0 897.7 514.6 898.2 518.6 899.0C522.7 899.7 525.0 901.1 529.1 901.6C533.1 902.1 538.3 901.8 543.0 901.9C547.6 902.1 552.8 902.4 556.9 902.4C560.9 902.4 563.8 902.2 567.3 901.9C570.7 901.6 573.6 901.1 577.7 900.7C581.7 900.4 586.4 900.1 591.6 899.8C596.8 899.5 603.2 899.2 609.0 899.0C614.8 898.7 620.5 898.6 626.3 898.4C632.1 898.3 637.9 898.2 643.7 898.1C649.5 898.0 655.3 897.8 661.1 897.8C666.9 897.7 672.7 897.9 678.4 897.8C684.2 897.6 690.0 896.9 695.8 896.7C701.6 896.5 707.4 896.6 713.2 896.4C719.0 896.2 724.8 895.8 730.6 895.5C736.3 895.1 742.1 894.8 747.9 894.3C753.7 893.8 759.5 893.1 765.3 892.5C771.1 892.0 776.9 891.4 782.7 890.8C788.5 890.2 793.8 889.5 800.0 889.1C806.3 888.6 815.5 888.1 820.0 888.0C824.6 887.9 823.2 888.6 827.4 888.5C831.5 888.5 839.0 887.9 844.7 887.7C850.5 887.5 856.3 887.3 862.1 887.3C867.9 887.4 874.3 887.7 879.5 888.0C884.7 888.3 889.3 888.6 893.4 889.1C897.4 889.5 900.3 890.2 903.8 890.8C907.3 891.4 909.6 892.3 914.2 892.9C918.9 893.5 925.8 894.0 931.6 894.3C937.4 894.6 943.2 894.5 949.0 894.6C954.8 894.7 960.5 894.8 966.3 895.0C972.1 895.1 975.0 895.4 983.7 895.5C992.4 895.6 1006.9 895.4 1018.4 895.5C1030.0 895.6 1044.5 895.9 1053.2 896.0C1061.9 896.2 1064.8 896.3 1070.6 896.4C1076.3 896.4 1082.1 896.4 1087.9 896.4C1093.7 896.4 1099.5 896.4 1105.3 896.4C1111.1 896.3 1113.5 896.2 1122.7 896.0C1131.8 895.9 1149.7 895.6 1160.0 895.5C1170.4 895.4 1171.9 895.6 1184.7 895.5C1197.5 895.4 1219.5 895.1 1236.9 895.0C1254.2 894.8 1274.5 894.9 1289.0 894.6C1303.4 894.3 1312.1 893.6 1323.7 893.2C1335.3 892.9 1344.0 892.8 1358.4 892.5C1372.9 892.3 1393.2 891.8 1410.6 891.5C1427.9 891.2 1447.8 891.0 1462.7 890.8C1477.6 890.6 1489.7 890.6 1500.0 890.3C1510.4 890.0 1514.8 889.5 1524.7 889.1C1534.7 888.6 1547.9 888.1 1559.5 887.7C1571.1 887.2 1582.6 886.7 1594.2 886.3C1605.8 885.9 1617.4 885.5 1629.0 885.1C1640.5 884.7 1652.1 884.2 1663.7 883.9C1675.3 883.5 1684.0 883.0 1698.4 882.8C1712.9 882.6 1733.2 882.5 1750.6 882.5C1767.9 882.4 1788.6 882.5 1802.7 882.5C1816.7 882.5 1829.4 882.5 1834.8 882.5" stroke="#984807" stroke-width="4.6"/>
<path d="M143.0 931.9C143.5 930.7 144.6 926.7 145.6 924.9C146.6 923.1 147.9 921.4 149.1 921.1C150.3 920.8 151.1 921.4 152.6 923.2C154.0 925.0 156.2 929.0 157.8 931.9C159.4 934.7 161.0 938.7 162.1 940.2C163.3 941.7 163.4 941.4 164.7 940.9C166.0 940.4 168.4 938.3 170.0 937.1C171.5 935.8 172.8 935.6 174.3 933.6C175.7 931.6 177.0 928.4 178.6 924.9C180.2 921.4 182.3 915.9 183.8 912.7C185.4 909.6 186.9 906.7 188.2 906.1C189.5 905.6 190.5 907.9 191.7 909.3C192.8 910.7 194.0 914.5 195.1 914.5C196.3 914.5 197.6 912.3 198.6 909.3C199.6 906.2 200.3 899.2 201.2 896.2C202.2 893.3 203.2 891.6 204.3 891.6C205.5 891.6 206.9 893.3 208.2 896.2C209.4 899.2 210.6 903.9 211.6 909.3C212.7 914.6 213.5 922.9 214.2 928.4C215.0 933.9 215.3 938.9 216.0 942.3C216.6 945.6 216.9 948.2 218.1 948.4C219.2 948.5 221.5 943.6 222.9 943.1C224.3 942.7 225.1 944.7 226.4 945.7C227.7 946.8 229.4 949.4 230.7 949.2C232.0 949.1 233.1 946.0 234.2 944.9C235.4 943.7 236.2 942.6 237.7 942.3C239.1 942.0 241.5 944.3 242.9 943.1C244.4 942.0 245.4 938.9 246.4 935.3C247.4 931.7 248.1 924.2 249.0 921.4C249.9 918.7 250.6 918.5 251.6 918.8C252.6 919.1 253.9 921.7 255.1 923.2C256.2 924.6 257.2 926.4 258.5 927.5C259.8 928.7 261.6 928.8 262.9 930.1C264.2 931.4 265.1 932.9 266.4 935.3C267.7 937.8 269.3 942.9 270.7 944.9C272.1 946.8 273.6 947.3 275.0 947.1C276.5 947.0 277.9 945.1 279.4 944.0C280.8 942.9 282.4 941.2 283.7 940.5C285.0 939.9 286.0 940.2 287.2 940.2C288.4 940.2 289.5 941.3 290.7 940.5C291.8 939.7 293.0 937.6 294.1 935.3C295.3 933.0 296.5 930.7 297.6 926.6C298.8 922.6 300.1 915.8 301.1 911.0C302.1 906.2 302.9 900.4 303.7 898.0C304.5 895.5 305.1 895.2 305.8 896.2C306.5 897.3 307.2 899.0 308.0 904.1C308.9 909.1 309.9 921.4 310.6 926.6C311.4 931.9 312.0 935.3 312.7 935.3C313.5 935.3 314.2 930.1 315.0 926.6C315.7 923.2 316.5 916.7 317.3 914.5C318.0 912.3 318.7 912.2 319.3 913.6C320.0 915.1 320.5 918.4 321.1 923.2C321.7 927.9 322.2 935.0 322.8 942.3C323.4 949.5 324.0 960.8 324.5 966.6C325.1 972.4 325.4 974.6 326.3 977.0C327.2 979.5 328.5 980.5 329.8 981.4C331.1 982.2 332.7 982.5 334.1 982.2C335.5 981.9 337.0 980.6 338.4 979.6C339.9 978.6 341.6 976.8 342.8 976.1C343.9 975.5 344.5 974.9 345.4 975.6C346.3 976.3 347.0 977.7 348.0 980.5C349.0 983.3 350.3 987.7 351.5 992.6C352.6 997.6 353.9 1004.2 354.9 1010.0C356.0 1015.8 356.8 1023.0 357.5 1027.4C358.3 1031.7 358.6 1034.3 359.3 1036.1C360.0 1037.9 360.9 1038.4 361.9 1038.2C362.9 1037.9 364.4 1037.6 365.4 1034.3C366.4 1031.1 367.2 1024.8 368.0 1018.7C368.7 1012.6 369.2 1004.8 369.7 997.9C370.2 990.9 370.7 982.5 371.1 977.0C371.5 971.5 371.7 967.7 372.3 964.9C372.9 962.0 373.8 959.9 374.6 959.6C375.3 959.4 375.7 961.4 376.7 963.1C377.6 964.9 379.1 969.2 380.1 970.1C381.1 970.9 381.9 969.2 382.7 968.3C383.6 967.5 384.5 965.6 385.3 964.9C386.2 964.1 387.1 963.7 387.9 964.0C388.8 964.3 389.5 965.6 390.6 966.6C391.6 967.6 392.7 970.2 394.0 970.1C395.3 969.9 396.9 967.0 398.4 965.7C399.8 964.4 401.1 962.9 402.7 962.2C404.3 961.6 406.2 961.6 407.9 961.7C409.7 961.9 411.7 961.7 413.1 963.1C414.6 964.5 415.7 966.9 416.6 970.1C417.5 973.2 417.7 979.2 418.3 982.2C419.0 985.3 419.7 988.0 420.4 988.3C421.2 988.6 422.0 987.0 422.7 984.0C423.4 980.9 423.8 974.7 424.4 970.1C425.0 965.4 425.4 960.1 426.2 956.2C426.9 952.3 427.8 948.9 428.8 946.6C429.8 944.3 431.1 943.3 432.2 942.3C433.4 941.2 434.6 939.9 435.7 940.2C436.9 940.5 438.2 943.2 439.2 944.0C440.2 944.8 440.9 946.3 441.8 944.9C442.7 943.4 443.5 940.4 444.4 935.3C445.3 930.3 446.1 920.3 447.0 914.5C447.9 908.7 448.6 903.8 449.6 900.6C450.6 897.4 452.1 896.2 453.1 895.4C454.1 894.5 455.0 893.9 455.7 895.4C456.4 896.8 456.8 899.4 457.4 904.1C458.0 908.7 458.6 916.2 459.2 923.2C459.7 930.1 460.4 939.6 460.9 945.7C461.4 951.9 461.6 954.1 462.0 960.0C462.5 965.9 463.2 974.2 463.7 981.4C464.3 988.5 464.6 993.8 465.2 1002.7C465.8 1011.6 466.7 1024.8 467.4 1034.7C468.1 1044.7 468.8 1054.3 469.5 1062.5C470.2 1070.7 470.9 1078.7 471.6 1083.9C472.4 1089.0 473.1 1091.7 473.8 1093.5C474.5 1095.2 475.3 1096.1 475.9 1094.5C476.5 1092.9 476.9 1090.3 477.4 1083.9C477.9 1077.4 478.3 1066.1 478.7 1056.1C479.1 1046.1 479.6 1034.7 480.0 1024.1C480.3 1013.4 480.5 1000.9 480.8 992.0C481.1 983.1 481.5 976.0 481.9 970.7C482.2 965.3 482.5 961.7 483.0 960.0C483.4 958.3 484.3 960.5 484.8 960.5C485.3 960.5 485.5 957.9 485.9 960.0C486.4 962.1 487.0 968.7 487.7 972.8C488.3 976.9 488.9 982.2 489.8 984.6C490.7 986.9 491.7 986.5 493.0 986.7C494.2 986.9 495.7 986.5 497.3 985.6C498.9 984.7 501.2 983.3 502.6 981.4C504.0 979.4 504.7 975.7 505.8 973.9C506.9 972.1 507.9 970.9 509.0 970.7C510.1 970.5 511.3 971.0 512.2 972.8C513.1 974.6 513.5 977.1 514.3 981.4C515.2 985.6 516.2 992.4 517.1 998.4C518.0 1004.5 518.8 1012.0 519.7 1017.7C520.5 1023.3 521.4 1029.6 522.2 1032.6C523.1 1035.6 524.0 1035.8 525.0 1035.8C526.0 1035.8 527.3 1034.6 528.2 1032.6C529.2 1030.6 530.1 1028.3 530.8 1024.1C531.5 1019.8 531.9 1014.1 532.5 1007.0C533.1 999.9 533.7 989.2 534.2 981.4C534.7 973.5 535.1 964.5 535.7 960.0C536.3 955.5 537.1 955.1 537.7 954.4C538.4 953.8 538.8 954.4 539.5 956.2C540.1 957.9 540.8 962.4 541.6 964.9C542.3 967.3 543.0 970.1 543.8 970.9C544.6 971.8 545.6 971.1 546.4 970.1C547.3 969.0 548.2 965.7 549.0 964.5C549.9 963.3 550.6 962.6 551.6 962.8C552.7 963.0 554.0 964.2 555.1 965.7C556.3 967.2 557.4 969.7 558.6 971.8C559.7 973.9 561.0 977.2 562.1 978.4C563.1 979.6 563.9 980.1 564.7 978.8C565.4 977.4 565.8 975.6 566.4 970.1C567.0 964.6 567.4 955.0 568.1 945.7C568.9 936.5 569.9 922.0 570.7 914.5C571.6 907.0 572.4 903.8 573.4 900.6C574.3 897.4 575.4 896.2 576.3 895.4C577.2 894.5 577.8 893.9 578.6 895.4C579.3 896.8 580.1 900.3 580.8 904.1C581.5 907.8 582.1 914.6 582.9 918.0C583.7 921.3 584.4 922.9 585.5 924.0C586.7 925.1 588.6 923.8 589.9 924.6C591.2 925.3 592.3 926.0 593.3 928.4C594.3 930.8 595.1 935.6 595.9 938.8C596.8 942.0 597.5 945.6 598.5 947.5C599.6 949.4 600.7 949.5 602.0 950.1C603.3 950.7 605.1 950.6 606.4 951.3C607.7 952.0 608.7 953.9 609.8 954.4C611.0 955.0 612.3 955.6 613.3 954.8C614.3 953.9 615.0 951.2 615.9 949.2C616.8 947.3 617.6 944.4 618.5 943.1C619.4 941.9 620.3 941.6 621.1 941.9C622.0 942.2 622.9 944.0 623.7 944.9C624.6 945.8 625.5 947.9 626.3 947.5C627.1 947.0 627.7 944.9 628.4 942.3C629.1 939.7 629.9 933.9 630.7 931.9C631.4 929.8 632.2 929.5 632.9 930.1C633.7 930.7 634.3 932.7 635.0 935.3C635.7 937.9 636.3 943.4 637.1 945.7C637.9 948.1 639.1 949.4 639.9 949.6C640.7 949.7 641.3 948.7 642.0 946.6C642.6 944.5 643.1 939.7 643.7 937.1C644.3 934.5 645.1 931.9 645.8 931.0C646.5 930.1 647.3 929.7 648.0 931.9C648.8 934.0 649.6 940.0 650.3 944.0C651.0 948.1 651.6 953.4 652.4 956.2C653.2 958.9 654.0 959.7 655.0 960.5C656.0 961.3 657.2 961.2 658.5 961.0C659.8 960.9 661.4 960.5 662.8 959.6C664.3 958.8 665.8 957.9 667.2 956.2C668.5 954.4 669.6 951.0 670.6 949.2C671.7 947.5 672.7 945.7 673.6 945.7C674.4 945.7 675.0 947.5 675.8 949.2C676.6 951.0 677.6 955.0 678.4 956.2C679.3 957.3 680.3 957.3 681.0 956.2C681.8 955.0 682.1 953.0 682.8 949.2C683.5 945.5 684.5 937.9 685.4 933.6C686.3 929.2 687.0 926.0 688.0 923.2C689.0 920.3 690.4 917.7 691.5 916.6C692.5 915.4 693.6 915.4 694.4 916.2C695.3 917.0 695.9 918.5 696.7 921.4C697.4 924.3 698.1 929.8 698.9 933.6C699.8 937.4 700.8 941.4 701.9 944.0C703.0 946.6 704.1 948.2 705.4 949.2C706.7 950.2 708.4 950.5 709.7 950.1C711.0 949.7 711.9 947.3 713.2 946.6C714.5 945.9 716.2 945.6 717.5 945.7C718.8 945.9 719.8 946.5 721.0 947.5C722.2 948.5 723.3 950.7 724.5 951.8C725.6 952.9 726.8 954.1 727.9 954.1C729.1 954.1 730.3 953.5 731.4 951.8C732.6 950.1 733.7 947.3 734.9 944.0C736.1 940.7 737.6 936.5 738.9 931.9C740.2 927.2 741.5 921.4 742.7 916.2C743.9 911.0 745.3 904.2 746.2 900.6C747.1 897.0 747.5 895.2 748.3 894.5C749.1 893.8 750.2 894.6 751.0 896.2C751.9 897.8 752.6 901.7 753.5 904.1C754.4 906.4 755.2 908.1 756.6 910.1C758.0 912.2 760.4 913.8 761.8 916.2C763.3 918.7 764.3 922.6 765.3 924.9C766.3 927.2 767.0 929.8 767.9 930.1C768.8 930.4 769.7 929.8 770.5 926.6C771.3 923.5 772.0 916.8 772.6 911.0C773.2 905.2 773.7 896.4 774.3 891.9C775.0 887.4 775.5 885.5 776.6 884.1C777.7 882.6 779.5 883.6 780.9 883.2C782.4 882.8 783.8 882.3 785.3 881.5C786.7 880.7 788.0 879.0 789.6 878.4C791.2 877.7 793.2 878.1 794.8 877.7C796.4 877.2 798.0 876.3 799.2 875.4C800.3 874.5 800.9 872.7 801.8 872.4C802.6 872.2 803.6 872.2 804.4 873.7C805.2 875.2 805.8 877.9 806.6 881.5C807.5 885.1 808.5 891.0 809.6 895.4C810.7 899.7 811.9 904.1 813.1 907.5C814.2 911.0 815.4 913.9 816.5 916.2C817.7 918.5 818.9 920.0 820.0 921.4C821.1 922.9 822.1 923.9 823.0 924.9C824.0 925.9 824.3 926.6 825.6 927.5C826.9 928.4 829.1 930.3 830.8 930.1C832.6 930.0 834.3 927.4 836.1 926.6C837.8 925.9 839.8 925.5 841.3 925.8C842.7 926.1 843.6 926.8 844.7 928.4C845.8 930.0 846.9 933.4 847.9 935.3C848.9 937.3 849.9 939.9 850.8 940.2C851.7 940.5 852.6 938.7 853.4 937.1C854.2 935.4 854.7 931.9 855.5 930.1C856.3 928.4 857.4 926.6 858.3 926.6C859.2 926.6 859.8 928.1 860.7 930.1C861.6 932.1 862.7 936.0 863.8 938.8C864.9 941.5 866.2 944.0 867.3 946.6C868.5 949.2 869.9 952.2 870.8 954.4C871.7 956.7 871.9 957.1 872.8 960.0C873.7 962.9 874.8 968.2 876.0 971.7C877.3 975.3 878.5 979.6 880.3 981.4C882.1 983.1 884.7 982.4 886.7 982.4C888.6 982.4 890.8 980.5 892.0 981.4C893.3 982.2 893.3 983.1 894.2 987.8C895.1 992.4 896.1 1000.9 897.4 1009.1C898.6 1017.3 900.4 1028.0 901.6 1036.9C902.9 1045.8 903.8 1054.0 904.8 1062.5C905.9 1071.0 907.2 1079.6 908.0 1088.1C908.9 1096.7 909.6 1106.3 910.2 1113.7C910.7 1121.2 910.8 1129.8 911.2 1133.0C911.7 1136.2 912.4 1136.2 913.0 1133.0C913.5 1129.8 914.0 1124.8 914.5 1113.7C915.0 1102.7 915.5 1081.7 915.9 1066.8C916.4 1051.8 916.8 1036.5 917.2 1024.1C917.6 1011.6 917.9 1000.0 918.3 992.0C918.7 984.0 918.9 979.0 919.4 976.0C919.8 973.0 920.3 973.5 920.9 973.9C921.5 974.2 921.9 976.5 923.0 978.2C924.1 979.8 925.7 982.4 927.3 983.5C928.9 984.6 930.6 984.9 932.6 984.6C934.6 984.2 937.2 983.0 939.0 981.4C940.8 979.8 941.9 976.7 943.3 974.9C944.7 973.2 945.8 971.6 947.6 970.7C949.3 969.8 952.0 970.0 954.0 969.6C955.9 969.3 957.9 969.6 959.3 968.5C960.7 967.5 961.8 965.0 962.5 963.2C963.2 961.4 963.1 959.9 963.7 957.9C964.4 955.9 965.3 952.7 966.3 951.0C967.3 949.2 968.6 948.0 969.8 947.5C971.0 947.0 972.1 947.3 973.3 947.8C974.4 948.4 975.3 949.6 976.8 951.0C978.2 952.3 980.4 954.6 982.0 956.2C983.6 957.8 984.9 959.4 986.3 960.5C987.8 961.6 989.3 962.9 990.6 962.8C992.0 962.6 993.1 961.6 994.1 959.6C995.1 957.7 995.9 954.1 996.7 951.0C997.5 947.8 998.3 942.6 999.0 940.5C999.7 938.5 1000.3 938.5 1001.1 938.8C1001.9 939.1 1002.8 940.2 1003.7 942.3C1004.5 944.3 1005.3 948.4 1006.3 951.0C1007.3 953.6 1008.5 956.2 1009.8 957.9C1011.1 959.6 1012.7 960.7 1014.1 961.0C1015.5 961.3 1017.0 960.7 1018.4 959.6C1019.9 958.5 1021.5 956.5 1022.8 954.4C1024.1 952.4 1025.2 948.9 1026.3 947.5C1027.3 946.0 1028.0 945.2 1028.9 945.7C1029.7 946.3 1030.6 948.5 1031.5 951.0C1032.3 953.4 1033.2 958.2 1034.1 960.5C1034.9 962.8 1035.9 965.0 1036.7 964.9C1037.5 964.7 1038.2 961.2 1038.9 959.6C1039.7 958.1 1040.2 955.9 1041.0 955.3C1041.8 954.7 1042.8 954.9 1043.6 956.2C1044.5 957.5 1045.4 961.2 1046.2 963.1C1047.1 965.0 1048.0 967.3 1048.8 967.5C1049.7 967.6 1050.7 966.2 1051.4 964.0C1052.2 961.8 1052.5 957.0 1053.2 954.4C1053.8 951.8 1054.5 949.5 1055.3 948.4C1056.0 947.3 1056.7 947.1 1057.5 947.8C1058.3 948.6 1059.3 949.9 1060.1 952.7C1061.0 955.5 1061.9 960.2 1062.7 964.9C1063.6 969.5 1064.5 975.3 1065.3 980.5C1066.2 985.7 1067.1 990.9 1067.9 996.1C1068.8 1001.3 1069.7 1006.5 1070.6 1011.8C1071.4 1017.0 1072.3 1024.3 1073.2 1027.4C1074.0 1030.5 1074.7 1031.1 1075.4 1030.5C1076.1 1029.9 1076.9 1028.8 1077.5 1023.9C1078.1 1019.0 1078.7 1009.7 1079.2 1001.3C1079.8 992.9 1080.4 981.6 1081.0 973.5C1081.6 965.4 1082.1 956.7 1082.7 952.7C1083.3 948.6 1083.9 949.2 1084.4 949.2C1085.0 949.2 1085.6 950.7 1086.2 952.7C1086.8 954.7 1087.3 959.1 1087.9 961.4C1088.6 963.7 1089.1 965.5 1090.0 966.6C1090.9 967.7 1091.7 967.8 1093.1 968.0C1094.5 968.1 1096.8 967.7 1098.3 967.5C1099.9 967.2 1101.5 967.3 1102.7 966.6C1103.8 965.9 1104.3 965.1 1105.3 963.1C1106.3 961.1 1107.6 957.0 1108.8 954.4C1109.9 951.8 1111.1 949.4 1112.2 947.5C1113.4 945.6 1114.6 944.2 1115.7 943.1C1116.9 942.1 1118.0 941.1 1119.2 941.4C1120.3 941.7 1121.6 943.9 1122.7 944.9C1123.7 945.9 1124.5 947.9 1125.3 947.5C1126.1 947.0 1126.7 944.9 1127.5 942.3C1128.3 939.7 1129.1 934.3 1130.0 931.9C1130.8 929.4 1131.8 928.1 1132.7 927.5C1133.7 926.9 1134.8 927.3 1135.7 928.0C1136.6 928.8 1137.4 929.5 1138.3 931.9C1139.2 934.2 1140.1 938.5 1140.9 942.3C1141.7 946.0 1142.4 951.5 1143.2 954.4C1143.9 957.3 1144.3 958.8 1145.2 959.6C1146.2 960.5 1147.4 959.9 1148.7 959.6C1150.0 959.4 1151.2 958.3 1153.1 957.9C1154.9 957.6 1158.2 958.1 1160.0 957.6C1161.8 957.0 1162.4 955.8 1163.9 954.8C1165.4 953.7 1167.4 952.1 1169.1 951.3C1170.8 950.5 1172.7 950.4 1174.3 950.1C1175.9 949.7 1177.5 950.1 1178.7 949.2C1179.8 948.4 1180.4 946.6 1181.3 944.9C1182.1 943.1 1183.0 940.0 1183.9 938.8C1184.7 937.6 1185.7 937.4 1186.5 937.9C1187.3 938.5 1187.8 940.5 1188.6 942.3C1189.3 944.0 1190.0 947.0 1190.8 948.4C1191.6 949.7 1192.6 950.2 1193.4 950.1C1194.3 949.9 1195.2 948.1 1196.0 947.5C1196.9 946.9 1197.8 946.4 1198.6 946.6C1199.5 946.8 1200.2 948.0 1201.2 948.9C1202.3 949.7 1203.4 951.2 1204.7 951.8C1206.0 952.4 1207.6 952.5 1209.1 952.3C1210.5 952.2 1212.1 951.7 1213.4 951.0C1214.7 950.2 1215.7 948.7 1216.9 947.8C1218.0 947.0 1219.0 946.1 1220.3 945.7C1221.7 945.4 1223.1 945.7 1224.7 945.7C1226.3 945.8 1228.2 946.2 1229.9 946.1C1231.6 945.9 1233.5 945.7 1235.1 944.9C1236.7 944.1 1238.2 942.7 1239.5 941.4C1240.8 940.1 1241.8 938.2 1242.9 937.1C1244.1 935.9 1245.4 934.5 1246.4 934.5C1247.4 934.5 1248.2 935.3 1249.0 937.1C1249.8 938.8 1250.4 942.7 1251.1 944.9C1251.8 947.0 1252.4 948.9 1253.4 950.1C1254.3 951.2 1255.2 951.5 1256.8 951.8C1258.4 952.1 1260.7 951.8 1262.9 951.8C1265.1 951.8 1267.8 951.7 1269.9 951.8C1271.9 951.9 1273.0 952.3 1275.1 952.3C1277.1 952.4 1279.8 952.5 1282.0 952.3C1284.2 952.2 1286.5 952.0 1288.1 951.3C1289.7 950.6 1290.4 949.2 1291.6 948.4C1292.7 947.5 1293.7 946.5 1295.0 946.1C1296.3 945.7 1298.1 945.5 1299.4 945.7C1300.7 946.0 1301.7 946.6 1302.9 947.5C1304.0 948.4 1305.2 950.1 1306.3 951.3C1307.5 952.5 1308.6 953.8 1309.8 954.4C1311.0 955.1 1312.2 955.6 1313.3 955.3C1314.4 955.0 1315.5 954.3 1316.4 952.7C1317.3 951.1 1318.1 948.6 1318.8 945.7C1319.6 942.9 1320.3 939.7 1321.1 935.3C1321.8 931.0 1322.7 924.9 1323.4 919.7C1324.0 914.5 1324.5 909.0 1325.1 904.1C1325.7 899.1 1326.2 893.3 1326.8 890.2C1327.5 887.0 1328.2 886.0 1328.9 885.3C1329.6 884.6 1330.3 884.7 1331.0 885.8C1331.7 886.9 1332.4 890.2 1333.3 891.9C1334.1 893.6 1334.8 895.1 1335.9 896.2C1336.9 897.4 1338.3 898.4 1339.3 898.8C1340.3 899.3 1341.1 899.6 1341.9 898.8C1342.8 898.1 1343.5 896.2 1344.2 894.5C1344.9 892.8 1345.5 889.7 1346.3 888.4C1347.1 887.1 1348.0 886.7 1348.9 886.7C1349.8 886.7 1350.6 887.0 1351.5 888.4C1352.4 889.9 1353.2 892.5 1354.1 895.4C1355.0 898.3 1355.8 902.0 1356.7 905.8C1357.6 909.6 1358.4 914.2 1359.3 918.0C1360.2 921.7 1360.9 925.6 1361.9 928.4C1362.9 931.1 1364.1 932.9 1365.4 934.5C1366.7 936.0 1368.3 936.6 1369.7 937.9C1371.2 939.2 1372.8 941.1 1374.1 942.3C1375.4 943.4 1376.2 944.4 1377.5 944.9C1378.9 945.4 1380.7 944.8 1381.9 945.4C1383.0 946.0 1383.6 947.0 1384.5 948.4C1385.4 949.7 1386.2 952.2 1387.1 953.6C1388.0 954.9 1388.8 956.4 1389.7 956.5C1390.6 956.7 1391.5 955.9 1392.3 954.4C1393.1 952.9 1393.8 949.9 1394.6 947.5C1395.3 945.1 1395.9 942.2 1396.7 940.2C1397.4 938.2 1398.2 936.7 1399.3 935.3C1400.3 933.9 1401.7 933.3 1402.7 931.9C1403.7 930.4 1404.6 929.5 1405.3 926.6C1406.1 923.7 1406.6 919.4 1407.1 914.5C1407.6 909.6 1407.9 901.6 1408.5 897.1C1409.0 892.6 1409.6 889.0 1410.2 887.6C1410.8 886.1 1411.4 886.5 1411.9 888.4C1412.5 890.3 1413.1 894.5 1413.7 898.8C1414.3 903.2 1414.8 909.8 1415.4 914.5C1416.1 919.1 1416.7 923.6 1417.5 926.6C1418.3 929.7 1419.1 931.3 1420.1 932.7C1421.1 934.2 1422.3 934.7 1423.6 935.3C1424.9 935.9 1426.5 936.3 1427.9 936.2C1429.4 936.0 1430.8 935.5 1432.3 934.5C1433.7 933.4 1435.3 932.0 1436.6 930.1C1437.9 928.2 1438.9 925.6 1440.1 923.2C1441.2 920.7 1442.4 917.2 1443.6 915.3C1444.7 913.5 1445.9 912.5 1447.0 911.9C1448.2 911.2 1449.3 910.9 1450.5 911.4C1451.7 911.8 1452.8 912.8 1454.0 914.5C1455.1 916.2 1456.3 918.5 1457.5 921.4C1458.6 924.3 1459.8 928.7 1460.9 931.9C1462.0 935.0 1463.0 938.8 1464.1 940.5C1465.1 942.3 1466.1 942.4 1467.0 942.3C1467.9 942.1 1468.6 940.4 1469.6 939.7C1470.6 938.9 1471.8 938.1 1473.1 937.9C1474.4 937.8 1476.1 938.9 1477.4 938.8C1478.7 938.7 1479.9 938.4 1480.9 937.1C1481.9 935.8 1482.6 932.4 1483.5 931.0C1484.4 929.5 1485.2 928.2 1486.1 928.4C1487.0 928.5 1487.8 930.5 1488.7 931.9C1489.6 933.2 1490.5 935.6 1491.3 936.2C1492.2 936.8 1493.1 936.6 1493.9 935.3C1494.8 934.0 1495.5 931.3 1496.5 928.4C1497.5 925.5 1498.8 920.6 1500.0 918.0C1501.2 915.3 1502.7 914.3 1503.9 912.7C1505.1 911.2 1506.2 909.3 1507.4 908.4C1508.5 907.5 1509.7 907.2 1510.8 907.2C1512.0 907.2 1513.2 907.2 1514.3 908.4C1515.5 909.6 1516.6 912.0 1517.8 914.5C1519.0 916.9 1520.1 920.4 1521.3 923.2C1522.4 925.9 1523.6 928.5 1524.7 931.0C1525.9 933.4 1526.9 936.0 1528.2 937.9C1529.5 939.9 1531.1 941.5 1532.6 942.6C1534.0 943.8 1535.6 944.6 1536.9 944.9C1538.2 945.1 1539.4 945.6 1540.4 944.0C1541.3 942.4 1541.8 939.4 1542.5 935.3C1543.1 931.3 1543.6 924.9 1544.2 919.7C1544.8 914.5 1545.3 908.5 1545.9 904.1C1546.6 899.6 1547.4 895.7 1548.2 892.8C1549.0 889.9 1549.8 888.1 1550.8 886.7C1551.8 885.2 1552.9 884.2 1553.9 884.1C1554.9 883.9 1555.8 885.2 1556.9 885.8C1557.9 886.5 1559.2 887.9 1560.3 888.1C1561.5 888.2 1562.7 887.8 1563.8 886.7C1565.0 885.6 1566.3 883.8 1567.3 881.5C1568.3 879.2 1569.1 875.5 1569.9 872.8C1570.7 870.0 1571.3 866.7 1572.0 865.0C1572.7 863.2 1573.5 862.2 1574.2 862.4C1575.0 862.5 1575.8 862.9 1576.5 865.8C1577.2 868.7 1577.7 874.8 1578.2 879.7C1578.8 884.7 1579.3 891.0 1580.0 895.4C1580.6 899.7 1581.3 903.0 1582.1 905.8C1582.8 908.5 1583.8 910.6 1584.7 911.9C1585.5 913.2 1586.4 913.6 1587.3 913.6C1588.1 913.6 1589.0 913.3 1589.9 911.9C1590.7 910.4 1591.6 908.0 1592.5 904.9C1593.4 901.9 1594.2 897.5 1595.1 893.6C1596.0 889.7 1596.9 884.8 1597.7 881.5C1598.5 878.1 1599.1 875.3 1599.8 873.7C1600.5 872.1 1601.2 871.9 1602.0 871.9C1602.8 871.9 1603.9 872.4 1604.6 873.7C1605.4 875.0 1606.0 877.7 1606.7 879.7C1607.5 881.8 1608.0 885.1 1609.0 885.8C1609.9 886.5 1611.2 884.6 1612.5 884.1C1613.8 883.6 1615.2 883.0 1616.8 882.9C1618.4 882.7 1620.3 882.7 1622.0 883.2C1623.8 883.7 1625.6 884.5 1627.2 885.8C1628.8 887.1 1630.1 889.4 1631.6 891.0C1633.0 892.6 1634.5 894.1 1635.9 895.4C1637.3 896.7 1638.6 898.4 1639.7 898.8C1640.9 899.3 1642.0 899.4 1642.9 898.0C1643.7 896.5 1644.3 893.2 1644.9 890.2C1645.6 887.1 1646.1 882.5 1646.7 879.7C1647.3 877.0 1647.7 874.8 1648.4 873.7C1649.1 872.5 1649.9 872.4 1650.7 872.8C1651.4 873.2 1652.2 874.2 1652.9 876.3C1653.7 878.3 1654.5 881.8 1655.4 885.0C1656.2 888.1 1657.3 892.5 1658.1 895.4C1659.0 898.3 1659.8 900.9 1660.6 902.3C1661.4 903.8 1662.1 904.5 1662.8 904.1C1663.6 903.6 1664.4 902.3 1665.1 899.7C1665.8 897.1 1666.2 891.9 1666.8 888.4C1667.4 885.0 1667.9 880.9 1668.6 878.9C1669.2 876.8 1669.9 876.4 1670.6 876.3C1671.4 876.1 1672.4 877.0 1673.3 878.0C1674.1 879.0 1674.7 881.3 1675.5 882.3C1676.3 883.4 1677.1 884.2 1677.9 884.1C1678.8 883.9 1679.9 881.9 1680.7 881.5C1681.6 881.0 1682.4 880.6 1683.2 881.5C1683.9 882.3 1684.7 884.1 1685.4 886.7C1686.2 889.3 1686.9 893.8 1687.7 897.1C1688.5 900.4 1689.2 903.8 1690.1 906.7C1691.0 909.6 1692.1 911.6 1693.2 914.5C1694.3 917.4 1695.6 920.8 1696.7 924.0C1697.8 927.2 1698.8 930.7 1699.8 933.6C1700.8 936.5 1701.8 939.7 1702.8 941.4C1703.8 943.1 1704.7 943.9 1705.7 944.0C1706.8 944.2 1707.9 943.4 1708.9 942.3C1709.8 941.1 1710.6 939.4 1711.5 937.1C1712.3 934.7 1713.2 930.8 1714.1 928.4C1714.9 925.9 1715.9 923.3 1716.7 922.3C1717.5 921.3 1718.2 921.3 1718.9 922.3C1719.7 923.3 1720.2 926.2 1721.0 928.4C1721.8 930.5 1722.8 934.0 1723.6 935.3C1724.5 936.6 1725.3 936.3 1726.2 936.2C1727.2 936.0 1728.3 934.7 1729.4 934.5C1730.4 934.3 1731.3 934.4 1732.3 935.0C1733.3 935.6 1734.1 936.6 1735.3 937.9C1736.4 939.3 1737.9 941.5 1739.3 943.1C1740.7 944.7 1742.2 946.2 1743.6 947.5C1745.1 948.7 1746.5 949.5 1747.9 950.6C1749.4 951.8 1751.0 953.3 1752.3 954.4C1753.6 955.6 1754.8 957.0 1755.8 957.6C1756.8 958.1 1757.6 958.6 1758.4 957.9C1759.2 957.2 1759.9 955.9 1760.6 953.6C1761.4 951.2 1761.9 947.9 1762.7 944.0C1763.5 940.1 1764.4 934.5 1765.3 930.1C1766.2 925.8 1767.1 921.4 1767.9 918.0C1768.8 914.5 1769.7 911.2 1770.5 909.3C1771.4 907.3 1772.3 906.4 1773.1 906.1C1774.0 905.9 1774.7 907.1 1775.7 907.9C1776.8 908.7 1777.9 910.3 1779.2 911.0C1780.5 911.7 1782.3 911.6 1783.6 911.9C1784.9 912.2 1785.9 911.4 1787.0 912.7C1788.2 914.0 1789.3 916.8 1790.5 919.7C1791.7 922.6 1792.8 926.6 1794.0 930.1C1795.1 933.6 1796.4 937.7 1797.5 940.5C1798.6 943.4 1799.6 946.0 1800.6 947.1C1801.6 948.3 1802.3 947.7 1803.5 947.5C1804.7 947.3 1806.4 946.4 1807.9 946.1C1809.3 945.7 1810.9 946.0 1812.2 945.4C1813.5 944.8 1814.5 944.1 1815.7 942.3C1816.8 940.4 1818.0 937.2 1819.2 934.5C1820.3 931.7 1821.5 928.5 1822.6 925.8C1823.8 923.0 1825.0 919.8 1826.1 918.0C1827.3 916.1 1828.6 914.9 1829.6 914.5C1830.6 914.0 1831.3 914.9 1832.2 915.3C1833.1 915.8 1834.4 916.8 1834.8 917.1" stroke="#984807" stroke-width="4.7"/>
<path d="M143.0 957.0C143.8 956.5 145.8 954.3 147.4 953.6C149.0 952.8 150.6 952.5 152.6 952.7C154.6 952.9 157.2 954.1 159.5 954.8C161.8 955.4 164.2 956.3 166.5 956.5C168.8 956.7 171.1 956.5 173.4 956.2C175.7 955.8 177.8 955.2 180.4 954.4C183.0 953.6 186.5 952.0 189.1 951.3C191.7 950.6 193.7 950.8 196.0 950.1C198.3 949.4 200.8 947.9 203.0 947.1C205.1 946.4 207.0 945.7 209.0 945.7C211.1 945.7 212.9 946.6 215.1 947.1C217.3 947.7 218.9 948.4 222.1 949.2C225.2 950.1 230.5 951.6 234.2 952.3C238.0 953.1 240.6 953.4 244.6 953.6C248.7 953.7 254.5 953.0 258.5 953.0C262.6 953.1 264.9 953.7 269.0 954.1C273.0 954.5 278.5 955.2 282.9 955.5C287.2 955.8 291.3 955.9 295.0 955.8C298.8 955.7 301.7 955.0 305.4 954.8C309.2 954.6 314.4 954.5 317.6 954.8C320.8 955.0 321.7 955.5 324.5 956.2C327.4 956.8 331.2 957.9 335.0 958.8C338.7 959.6 343.7 960.4 347.1 961.4C350.6 962.4 353.2 963.6 355.8 964.9C358.4 966.2 360.7 968.0 362.8 969.2C364.8 970.4 365.7 971.5 368.0 972.1C370.3 972.8 372.9 972.8 376.7 973.2C380.4 973.6 385.3 974.0 390.6 974.4C395.8 974.8 402.1 975.3 407.9 975.6C413.7 975.9 419.5 976.1 425.3 976.1C431.1 976.1 438.3 975.9 442.7 975.6C447.0 975.3 448.5 974.6 451.3 974.4C454.2 974.2 457.4 974.0 460.0 974.4C462.6 974.8 465.3 976.3 467.0 977.0C468.6 977.7 468.6 977.8 470.0 978.8C471.4 979.7 472.3 981.7 475.2 982.6C478.1 983.4 482.4 983.6 487.4 984.0C492.3 984.3 499.5 984.4 504.7 984.8C510.0 985.3 514.6 985.8 518.6 986.6C522.7 987.3 525.0 988.7 529.1 989.2C533.1 989.7 538.3 989.4 543.0 989.5C547.6 989.7 552.8 990.0 556.9 990.0C560.9 990.0 563.8 989.8 567.3 989.5C570.7 989.2 573.6 988.7 577.7 988.3C581.7 988.0 586.4 987.7 591.6 987.4C596.8 987.1 603.2 986.8 609.0 986.6C614.8 986.3 620.5 986.2 626.3 986.0C632.1 985.9 637.9 985.8 643.7 985.7C649.5 985.6 655.3 985.4 661.1 985.4C666.9 985.3 672.7 985.5 678.4 985.4C684.2 985.2 690.0 984.5 695.8 984.3C701.6 984.1 707.4 984.2 713.2 984.0C719.0 983.8 724.8 983.4 730.6 983.1C736.3 982.7 742.1 982.4 747.9 981.9C753.7 981.4 759.5 980.7 765.3 980.1C771.1 979.6 776.9 979.0 782.7 978.4C788.5 977.8 793.8 977.1 800.0 976.7C806.3 976.2 815.5 975.7 820.0 975.6C824.6 975.5 823.2 976.2 827.4 976.1C831.5 976.1 839.0 975.5 844.7 975.3C850.5 975.1 856.3 974.9 862.1 974.9C867.9 975.0 874.3 975.3 879.5 975.6C884.7 975.9 889.3 976.2 893.4 976.7C897.4 977.1 900.3 977.8 903.8 978.4C907.3 979.0 909.6 979.9 914.2 980.5C918.9 981.1 925.8 981.6 931.6 981.9C937.4 982.2 943.2 982.1 949.0 982.2C954.8 982.3 960.5 982.4 966.3 982.6C972.1 982.7 975.0 983.0 983.7 983.1C992.4 983.2 1006.9 983.0 1018.4 983.1C1030.0 983.2 1044.5 983.5 1053.2 983.6C1061.9 983.8 1064.8 983.9 1070.6 984.0C1076.3 984.0 1082.1 984.0 1087.9 984.0C1093.7 984.0 1099.5 984.0 1105.3 984.0C1111.1 983.9 1113.5 983.8 1122.7 983.6C1131.8 983.5 1149.7 983.2 1160.0 983.1C1170.4 983.0 1171.9 983.2 1184.7 983.1C1197.5 983.0 1219.5 982.7 1236.9 982.6C1254.2 982.4 1274.5 982.5 1289.0 982.2C1303.4 981.9 1312.1 981.2 1323.7 980.8C1335.3 980.5 1344.0 980.4 1358.4 980.1C1372.9 979.9 1393.2 979.4 1410.6 979.1C1427.9 978.8 1447.8 978.6 1462.7 978.4C1477.6 978.2 1489.7 978.2 1500.0 977.9C1510.4 977.6 1514.8 977.1 1524.7 976.7C1534.7 976.2 1547.9 975.7 1559.5 975.3C1571.1 974.8 1582.6 974.3 1594.2 973.9C1605.8 973.5 1617.4 973.1 1629.0 972.7C1640.5 972.3 1652.1 971.8 1663.7 971.5C1675.3 971.1 1684.0 970.6 1698.4 970.4C1712.9 970.2 1733.2 970.1 1750.6 970.1C1767.9 970.0 1788.6 970.1 1802.7 970.1C1816.7 970.1 1829.4 970.1 1834.8 970.1" stroke="#ff0000" stroke-width="4.9"/>
</g>
<g fill="none" stroke="#000" stroke-width="3">
<line x1="123" x2="1780" y1="132.5" y2="132.5"/>
<line x1="123" x2="1836" y1="1254.5" y2="1254.5"/>
<line x1="142.5" x2="142.5" y1="131" y2="1274"/>
<line x1="126.5" x2="142.5" y1="1197.5" y2="1197.5" stroke-width="3"/>
<line x1="123.0" x2="142.5" y1="1142.5" y2="1142.5" stroke-width="3"/>
<line x1="126.5" x2="142.5" y1="1085.5" y2="1085.5" stroke-width="3"/>
<line x1="123.0" x2="142.5" y1="1030.0" y2="1030.0" stroke-width="2"/>
<line x1="126.5" x2="142.5" y1="973.0" y2="973.0" stroke-width="2"/>
<line x1="123.0" x2="142.5" y1="918.0" y2="918.0" stroke-width="2"/>
<line x1="126.5" x2="142.5" y1="861.0" y2="861.0" stroke-width="2"/>
<line x1="123.0" x2="142.5" y1="805.5" y2="805.5" stroke-width="3"/>
<line x1="126.5" x2="142.5" y1="748.0" y2="748.0" stroke-width="2"/>
<line x1="123.0" x2="142.5" y1="693.5" y2="693.5" stroke-width="3"/>
<line x1="126.5" x2="142.5" y1="636.5" y2="636.5" stroke-width="3"/>
<line x1="123.0" x2="142.5" y1="581.5" y2="581.5" stroke-width="3"/>
<line x1="126.5" x2="142.5" y1="524.5" y2="524.5" stroke-width="3"/>
<line x1="123.0" x2="142.5" y1="468.5" y2="468.5" stroke-width="3"/>
<line x1="126.5" x2="142.5" y1="411.5" y2="411.5" stroke-width="3"/>
<line x1="123.0" x2="142.5" y1="356.5" y2="356.5" stroke-width="3"/>
<line x1="126.5" x2="142.5" y1="299.5" y2="299.5" stroke-width="3"/>
<line x1="123.0" x2="142.5" y1="244.5" y2="244.5" stroke-width="3"/>
<line x1="126.5" x2="142.5" y1="187.5" y2="187.5" stroke-width="3"/>
<line x1="196.5" x2="196.5" y1="1254" y2="1268.8" stroke-width="3"/>
<line x1="251.5" x2="251.5" y1="1254" y2="1274.0" stroke-width="3"/>
<line x1="306.5" x2="306.5" y1="1254" y2="1268.8" stroke-width="3"/>
<line x1="359.5" x2="359.5" y1="1254" y2="1274.0" stroke-width="3"/>
<line x1="415.5" x2="415.5" y1="1254" y2="1268.8" stroke-width="3"/>
<line x1="468.5" x2="468.5" y1="1254" y2="1274.0" stroke-width="3"/>
<line x1="523.5" x2="523.5" y1="1254" y2="1268.8" stroke-width="3"/>
<line x1="579.5" x2="579.5" y1="1254" y2="1274.0" stroke-width="3"/>
<line x1="632.5" x2="632.5" y1="1254" y2="1268.8" stroke-width="3"/>
<line x1="687.5" x2="687.5" y1="1254" y2="1274.0" stroke-width="3"/>
<line x1="742.5" x2="742.5" y1="1254" y2="1268.8" stroke-width="3"/>
<line x1="796.5" x2="796.5" y1="1254" y2="1274.0" stroke-width="3"/>
<line x1="851.5" x2="851.5" y1="1254" y2="1268.8" stroke-width="3"/>
<line x1="906.5" x2="906.5" y1="1254" y2="1274.0" stroke-width="3"/>
<line x1="960.5" x2="960.5" y1="1254" y2="1268.8" stroke-width="3"/>
<line x1="1015.5" x2="1015.5" y1="1254" y2="1274.0" stroke-width="3"/>
<line x1="1070.5" x2="1070.5" y1="1254" y2="1268.8" stroke-width="3"/>
<line x1="1124.5" x2="1124.5" y1="1254" y2="1274.0" stroke-width="3"/>
<line x1="1179.5" x2="1179.5" y1="1254" y2="1268.8" stroke-width="3"/>
<line x1="1232.5" x2="1232.5" y1="1254" y2="1274.0" stroke-width="3"/>
<line x1="1287.5" x2="1287.5" y1="1254" y2="1268.8" stroke-width="3"/>
<line x1="1343.5" x2="1343.5" y1="1254" y2="1274.0" stroke-width="3"/>
<line x1="1397.0" x2="1397.0" y1="1254" y2="1268.8" stroke-width="2"/>
<line x1="1452.0" x2="1452.0" y1="1254" y2="1274.0" stroke-width="2"/>
<line x1="1507.5" x2="1507.5" y1="1254" y2="1268.8" stroke-width="3"/>
<line x1="1560.5" x2="1560.5" y1="1254" y2="1274.0" stroke-width="3"/>
<line x1="1616.0" x2="1616.0" y1="1254" y2="1268.8" stroke-width="2"/>
<line x1="1671.0" x2="1671.0" y1="1254" y2="1274.0" stroke-width="2"/>
<line x1="1724.5" x2="1724.5" y1="1254" y2="1268.8" stroke-width="3"/>
<line x1="1780.0" x2="1780.0" y1="1254" y2="1274.0" stroke-width="2"/>
<line x1="1835.0" x2="1835.0" y1="1254" y2="1268.8" stroke-width="2"/>
</g>
<g fill="none" stroke="#858585" stroke-width="2">
<line x1="1835" x2="1835" y1="131" y2="1253"/>
<line x1="1835" x2="1855" y1="1254.5" y2="1254.5" stroke-width="3"/>
<line x1="1835" x2="1855" y1="1142.5" y2="1142.5" stroke-width="3"/>
<line x1="1835" x2="1855" y1="1030.0" y2="1030.0" stroke-width="2"/>
<line x1="1835" x2="1855" y1="918.0" y2="918.0" stroke-width="2"/>
<line x1="1835" x2="1855" y1="805.5" y2="805.5" stroke-width="3"/>
<line x1="1835" x2="1855" y1="693.5" y2="693.5" stroke-width="3"/>
<line x1="1835" x2="1855" y1="581.5" y2="581.5" stroke-width="3"/>
<line x1="1835" x2="1855" y1="468.5" y2="468.5" stroke-width="3"/>
<line x1="1835" x2="1855" y1="356.5" y2="356.5" stroke-width="3"/>
<line x1="1835" x2="1855" y1="244.5" y2="244.5" stroke-width="3"/>
<line x1="1835" x2="1855" y1="132.5" y2="132.5" stroke-width="3"/>
</g>
<line x1="1781" x2="1834" y1="132.5" y2="132.5" stroke="#b4b4b4" stroke-width="3"/>
<line x1="1836.5" x2="1836.5" y1="1093" y2="1248" stroke="#000" stroke-width="1"/>
<g font-family="'Liberation Serif', 'Times New Roman', serif" fill="#000" style="font-kerning:none;font-variant-ligatures:none" text-rendering="geometricPrecision">
<text x="53.85" y="1275.50" font-size="67.83" textLength="33.25" lengthAdjust="spacingAndGlyphs">0</text>
<text x="1892.60" y="1275.50" font-size="67.83" textLength="33.25" lengthAdjust="spacingAndGlyphs">0</text>
<text x="53.85" y="1163.20" font-size="67.83" textLength="33.25" lengthAdjust="spacingAndGlyphs">5</text>
<text x="1894.16" y="1163.20" font-size="67.83" textLength="66.50" lengthAdjust="spacingAndGlyphs">10</text>
<text x="20.60" y="1051.00" font-size="67.83" textLength="66.50" lengthAdjust="spacingAndGlyphs">10</text>
<text x="1892.60" y="1051.00" font-size="67.83" textLength="66.50" lengthAdjust="spacingAndGlyphs">20</text>
<text x="20.60" y="939.00" font-size="67.83" textLength="66.50" lengthAdjust="spacingAndGlyphs">15</text>
<text x="1892.60" y="939.00" font-size="67.83" textLength="66.50" lengthAdjust="spacingAndGlyphs">30</text>
<text x="20.60" y="826.40" font-size="67.83" textLength="66.50" lengthAdjust="spacingAndGlyphs">20</text>
<text x="1892.60" y="826.40" font-size="67.83" textLength="66.50" lengthAdjust="spacingAndGlyphs">40</text>
<text x="20.60" y="714.40" font-size="67.83" textLength="66.50" lengthAdjust="spacingAndGlyphs">25</text>
<text x="1892.60" y="714.40" font-size="67.83" textLength="66.50" lengthAdjust="spacingAndGlyphs">50</text>
<text x="20.60" y="602.10" font-size="67.83" textLength="66.50" lengthAdjust="spacingAndGlyphs">30</text>
<text x="1892.60" y="602.10" font-size="67.83" textLength="66.50" lengthAdjust="spacingAndGlyphs">60</text>
<text x="20.60" y="489.30" font-size="67.83" textLength="66.50" lengthAdjust="spacingAndGlyphs">35</text>
<text x="1892.60" y="489.30" font-size="67.83" textLength="66.50" lengthAdjust="spacingAndGlyphs">70</text>
<text x="20.60" y="377.10" font-size="67.83" textLength="66.50" lengthAdjust="spacingAndGlyphs">40</text>
<text x="1892.60" y="377.10" font-size="67.83" textLength="66.50" lengthAdjust="spacingAndGlyphs">80</text>
<text x="20.60" y="265.30" font-size="67.83" textLength="66.50" lengthAdjust="spacingAndGlyphs">45</text>
<text x="1892.60" y="265.30" font-size="67.83" textLength="66.50" lengthAdjust="spacingAndGlyphs">90</text>
<text x="20.60" y="153.30" font-size="67.83" textLength="66.50" lengthAdjust="spacingAndGlyphs">50</text>
<text x="1894.16" y="153.30" font-size="67.83" textLength="99.75" lengthAdjust="spacingAndGlyphs">100</text>
<text x="125.97" y="1353.20" font-size="67.83" textLength="33.25" lengthAdjust="spacingAndGlyphs">0</text>
<text x="234.88" y="1353.20" font-size="67.83" textLength="33.25" lengthAdjust="spacingAndGlyphs">2</text>
<text x="342.88" y="1353.20" font-size="67.83" textLength="33.25" lengthAdjust="spacingAndGlyphs">4</text>
<text x="451.77" y="1353.20" font-size="67.83" textLength="33.25" lengthAdjust="spacingAndGlyphs">6</text>
<text x="562.73" y="1353.20" font-size="67.83" textLength="33.25" lengthAdjust="spacingAndGlyphs">8</text>
<text x="654.15" y="1353.20" font-size="67.83" textLength="66.50" lengthAdjust="spacingAndGlyphs">10</text>
<text x="763.05" y="1353.20" font-size="67.83" textLength="66.50" lengthAdjust="spacingAndGlyphs">12</text>
<text x="873.35" y="1353.20" font-size="67.83" textLength="66.50" lengthAdjust="spacingAndGlyphs">14</text>
<text x="982.30" y="1353.20" font-size="67.83" textLength="66.50" lengthAdjust="spacingAndGlyphs">16</text>
<text x="1091.25" y="1353.20" font-size="67.83" textLength="66.50" lengthAdjust="spacingAndGlyphs">18</text>
<text x="1199.25" y="1353.20" font-size="67.83" textLength="66.50" lengthAdjust="spacingAndGlyphs">20</text>
<text x="1309.95" y="1353.20" font-size="67.83" textLength="66.50" lengthAdjust="spacingAndGlyphs">22</text>
<text x="1418.85" y="1353.20" font-size="67.83" textLength="66.50" lengthAdjust="spacingAndGlyphs">24</text>
<text x="1527.25" y="1353.20" font-size="67.83" textLength="66.50" lengthAdjust="spacingAndGlyphs">26</text>
<text x="1637.75" y="1353.20" font-size="67.83" textLength="66.50" lengthAdjust="spacingAndGlyphs">28</text>
<text x="115.53" y="83.00" font-size="66.5" font-style="italic" textLength="35.64" lengthAdjust="spacingAndGlyphs">q</text>
<text x="150.82" y="97.00" font-size="47.02" textLength="23.36" lengthAdjust="spacingAndGlyphs">0</text>
<text x="173.94" y="83.30" font-size="66.5" textLength="293.89" lengthAdjust="spacingAndGlyphs">, kW/(kg/s)</text>
<text x="959.07" y="92.00" font-size="66.5" textLength="42.17" lengthAdjust="spacingAndGlyphs">Σ</text>
<text x="998.28" y="93.00" font-size="66.5" font-style="italic" textLength="34.96" lengthAdjust="spacingAndGlyphs">q</text>
<text x="1033.91" y="105.70" font-size="47.02" textLength="55.37" lengthAdjust="spacingAndGlyphs">0.b</text>
<text x="1088.45" y="92.00" font-size="66.5" textLength="28.41" lengthAdjust="spacingAndGlyphs">τ</text>
<text x="1116.00" y="92.00" font-size="66.5" textLength="18.60" lengthAdjust="spacingAndGlyphs">/</text>
<text x="1131.07" y="92.00" font-size="66.5" textLength="42.17" lengthAdjust="spacingAndGlyphs">Σ</text>
<text x="1170.93" y="93.00" font-size="66.5" font-style="italic" textLength="35.64" lengthAdjust="spacingAndGlyphs">q</text>
<text x="1207.26" y="105.70" font-size="47.02" textLength="77.90" lengthAdjust="spacingAndGlyphs">0.rat</text>
<text x="1284.44" y="92.00" font-size="66.5" textLength="28.52" lengthAdjust="spacingAndGlyphs">τ</text>
<text x="1311.94" y="93.50" font-size="66.5" textLength="17.46" lengthAdjust="spacingAndGlyphs">,</text>
<text x="1343.05" y="92.00" font-size="66.5" textLength="42.53" lengthAdjust="spacingAndGlyphs">Σ</text>
<text x="1383.06" y="93.00" font-size="66.5" font-style="italic" textLength="35.19" lengthAdjust="spacingAndGlyphs">q</text>
<text x="1418.37" y="105.70" font-size="47.02" textLength="132.21" lengthAdjust="spacingAndGlyphs">0.10-15</text>
<text x="1550.40" y="92.00" font-size="66.5" textLength="17.60" lengthAdjust="spacingAndGlyphs">/</text>
<text x="1566.22" y="92.00" font-size="66.5" textLength="41.35" lengthAdjust="spacingAndGlyphs">Σ</text>
<text x="1606.11" y="93.00" font-size="66.5" font-style="italic" textLength="34.51" lengthAdjust="spacingAndGlyphs">q</text>
<text x="1641.56" y="105.70" font-size="47.02" textLength="121.00" lengthAdjust="spacingAndGlyphs">0.10rat</text>
<text x="1762.72" y="93.50" font-size="66.5" textLength="16.95" lengthAdjust="spacingAndGlyphs">,</text>
<text x="1801.66" y="92.00" font-size="66.5" textLength="57.08" lengthAdjust="spacingAndGlyphs">%</text>
<text x="609.30" y="214.30" font-size="66.5" textLength="124.88" lengthAdjust="spacingAndGlyphs">LRL</text>
<text x="734.80" y="227.70" font-size="47.02" textLength="129.74" lengthAdjust="spacingAndGlyphs">10,7-15</text>
<text x="861.21" y="214.30" font-size="66.5" textLength="42.90" lengthAdjust="spacingAndGlyphs">=</text>
<text x="901.09" y="214.30" font-size="66.5" textLength="40.40" lengthAdjust="spacingAndGlyphs">Σ</text>
<text x="940.54" y="215.30" font-size="66.5" font-style="italic" textLength="34.06" lengthAdjust="spacingAndGlyphs">q</text>
<text x="976.34" y="227.70" font-size="47.02" textLength="189.37" lengthAdjust="spacingAndGlyphs">0.b10,7-15</text>
<text x="1165.20" y="214.30" font-size="66.5" textLength="27.51" lengthAdjust="spacingAndGlyphs">τ</text>
<text x="1192.60" y="214.30" font-size="66.5" textLength="17.80" lengthAdjust="spacingAndGlyphs">/</text>
<text x="1208.59" y="214.30" font-size="66.5" textLength="40.40" lengthAdjust="spacingAndGlyphs">Σ</text>
<text x="1248.74" y="215.30" font-size="66.5" font-style="italic" textLength="34.06" lengthAdjust="spacingAndGlyphs">q</text>
<text x="1282.92" y="227.70" font-size="47.02" textLength="157.14" lengthAdjust="spacingAndGlyphs">0.10,7rat</text>
<text x="1440.53" y="214.30" font-size="66.5" textLength="26.83" lengthAdjust="spacingAndGlyphs">τ</text>
<text x="149.16" y="261.80" font-size="66.5" font-style="italic" textLength="35.19" lengthAdjust="spacingAndGlyphs">q</text>
<text x="184.94" y="275.00" font-size="47.02" textLength="100.62" lengthAdjust="spacingAndGlyphs">0.7rat</text>
<text x="161.91" y="383.70" font-size="66.5" font-style="italic" textLength="34.51" lengthAdjust="spacingAndGlyphs">q</text>
<text x="197.11" y="397.00" font-size="47.02" textLength="121.05" lengthAdjust="spacingAndGlyphs">0.10rat</text>
<text x="148.46" y="732.00" font-size="66.5" font-style="italic" textLength="35.30" lengthAdjust="spacingAndGlyphs">q</text>
<text x="184.16" y="745.00" font-size="47.02" textLength="121.00" lengthAdjust="spacingAndGlyphs">0.15rat</text>
<text x="708.57" y="363.80" font-size="66.5" textLength="42.17" lengthAdjust="spacingAndGlyphs">Σ</text>
<text x="748.75" y="364.80" font-size="66.5" font-style="italic" textLength="35.41" lengthAdjust="spacingAndGlyphs">q</text>
<text x="784.36" y="378.00" font-size="47.02" textLength="153.91" lengthAdjust="spacingAndGlyphs">0.b10-15</text>
<text x="937.78" y="363.80" font-size="66.5" textLength="27.73" lengthAdjust="spacingAndGlyphs">τ</text>
<text x="966.00" y="363.80" font-size="66.5" textLength="17.50" lengthAdjust="spacingAndGlyphs">/</text>
<text x="981.54" y="363.80" font-size="66.5" textLength="41.11" lengthAdjust="spacingAndGlyphs">Σ</text>
<text x="1021.39" y="364.80" font-size="66.5" font-style="italic" textLength="34.73" lengthAdjust="spacingAndGlyphs">q</text>
<text x="1056.85" y="378.00" font-size="47.02" textLength="121.20" lengthAdjust="spacingAndGlyphs">0.10rat</text>
<text x="1178.57" y="363.80" font-size="66.5" textLength="26.16" lengthAdjust="spacingAndGlyphs">τ</text>
<text x="376.65" y="569.00" font-size="66.5" textLength="40.99" lengthAdjust="spacingAndGlyphs">Σ</text>
<text x="416.07" y="570.00" font-size="66.5" font-style="italic" textLength="33.61" lengthAdjust="spacingAndGlyphs">q</text>
<text x="451.37" y="583.00" font-size="47.02" textLength="131.90" lengthAdjust="spacingAndGlyphs">0.b7-15</text>
<text x="583.08" y="569.00" font-size="66.5" textLength="27.85" lengthAdjust="spacingAndGlyphs">τ</text>
<text x="611.00" y="569.00" font-size="66.5" textLength="19.00" lengthAdjust="spacingAndGlyphs">/</text>
<text x="627.79" y="569.00" font-size="66.5" textLength="40.40" lengthAdjust="spacingAndGlyphs">Σ</text>
<text x="666.72" y="570.00" font-size="66.5" font-style="italic" textLength="34.40" lengthAdjust="spacingAndGlyphs">q</text>
<text x="702.04" y="583.00" font-size="47.02" textLength="100.41" lengthAdjust="spacingAndGlyphs">0.7rat</text>
<text x="802.76" y="569.00" font-size="66.5" textLength="26.39" lengthAdjust="spacingAndGlyphs">τ</text>
<text x="981.74" y="837.00" font-size="66.5" textLength="39.58" lengthAdjust="spacingAndGlyphs">Σ</text>
<text x="1020.35" y="838.00" font-size="66.5" font-style="italic" textLength="35.41" lengthAdjust="spacingAndGlyphs">q</text>
<text x="1056.49" y="851.30" font-size="47.02" textLength="109.16" lengthAdjust="spacingAndGlyphs">0.7-15</text>
<text x="1166.57" y="837.00" font-size="66.5" textLength="26.16" lengthAdjust="spacingAndGlyphs">τ</text>
<text x="1193.50" y="837.00" font-size="66.5" textLength="17.40" lengthAdjust="spacingAndGlyphs">/</text>
<text x="1208.94" y="837.00" font-size="66.5" textLength="41.11" lengthAdjust="spacingAndGlyphs">Σ</text>
<text x="1248.79" y="838.00" font-size="66.5" font-style="italic" textLength="34.73" lengthAdjust="spacingAndGlyphs">q</text>
<text x="1284.25" y="851.30" font-size="47.02" textLength="99.70" lengthAdjust="spacingAndGlyphs">0.7rat</text>
<text x="1385.00" y="837.00" font-size="66.5" textLength="25.60" lengthAdjust="spacingAndGlyphs">τ</text>
<text x="1145.70" y="1017.00" font-size="66.5" font-style="italic" textLength="34.62" lengthAdjust="spacingAndGlyphs">q</text>
<text x="1180.98" y="1031.50" font-size="47.02" textLength="109.68" lengthAdjust="spacingAndGlyphs">0.7-15</text>
<text x="1126.10" y="1157.50" font-size="66.5" font-style="italic" textLength="34.62" lengthAdjust="spacingAndGlyphs">q</text>
<text x="1160.78" y="1170.50" font-size="47.02" textLength="130.87" lengthAdjust="spacingAndGlyphs">0.10-15</text>
<text x="1338.63" y="1124.20" font-size="66.5" textLength="41.23" lengthAdjust="spacingAndGlyphs">Σ</text>
<text x="1378.79" y="1125.20" font-size="66.5" font-style="italic" textLength="34.73" lengthAdjust="spacingAndGlyphs">q</text>
<text x="1413.48" y="1137.70" font-size="47.02" textLength="131.18" lengthAdjust="spacingAndGlyphs">0.10-15</text>
<text x="1545.02" y="1124.20" font-size="66.5" textLength="27.06" lengthAdjust="spacingAndGlyphs">τ</text>
<text x="1572.00" y="1124.20" font-size="66.5" textLength="17.30" lengthAdjust="spacingAndGlyphs">/</text>
<text x="1587.33" y="1124.20" font-size="66.5" textLength="41.23" lengthAdjust="spacingAndGlyphs">Σ</text>
<text x="1627.19" y="1125.20" font-size="66.5" font-style="italic" textLength="34.73" lengthAdjust="spacingAndGlyphs">q</text>
<text x="1662.76" y="1137.70" font-size="47.02" textLength="120.59" lengthAdjust="spacingAndGlyphs">0.10rat</text>
<text x="1784.29" y="1124.20" font-size="66.5" textLength="27.62" lengthAdjust="spacingAndGlyphs">τ</text>
<text x="1726.98" y="1346.30" font-size="81" textLength="35.14" lengthAdjust="spacingAndGlyphs">τ</text>
<text x="1760.35" y="1347.00" font-size="66.5" textLength="20.65" lengthAdjust="spacingAndGlyphs">,</text>
<text x="1799.20" y="1346.50" font-size="66.5" textLength="91.85" lengthAdjust="spacingAndGlyphs">day</text>
</g>
<g stroke="#000" stroke-width="4.7" fill="none">
<line x1="228.6" y1="285.8" x2="253.4" y2="311.6"/>
<line x1="249.5" y1="414.7" x2="268.3" y2="467.8"/>
<line x1="945.2" y1="375.9" x2="972.0" y2="404.5"/>
<line x1="503.4" y1="488.5" x2="440.6" y2="533.7"/>
<line x1="344.4" y1="695.0" x2="304.9" y2="727.7"/>
<line x1="979.0" y1="827.6" x2="932.7" y2="891.1"/>
<line x1="1119.0" y1="944.4" x2="1150.7" y2="1002.0"/>
<line x1="1099.5" y1="1057.7" x2="1146.4" y2="1112.4"/>
<line x1="1427.7" y1="972.8" x2="1511.6" y2="1093.4"/>
</g>
</svg>
</body></html>
